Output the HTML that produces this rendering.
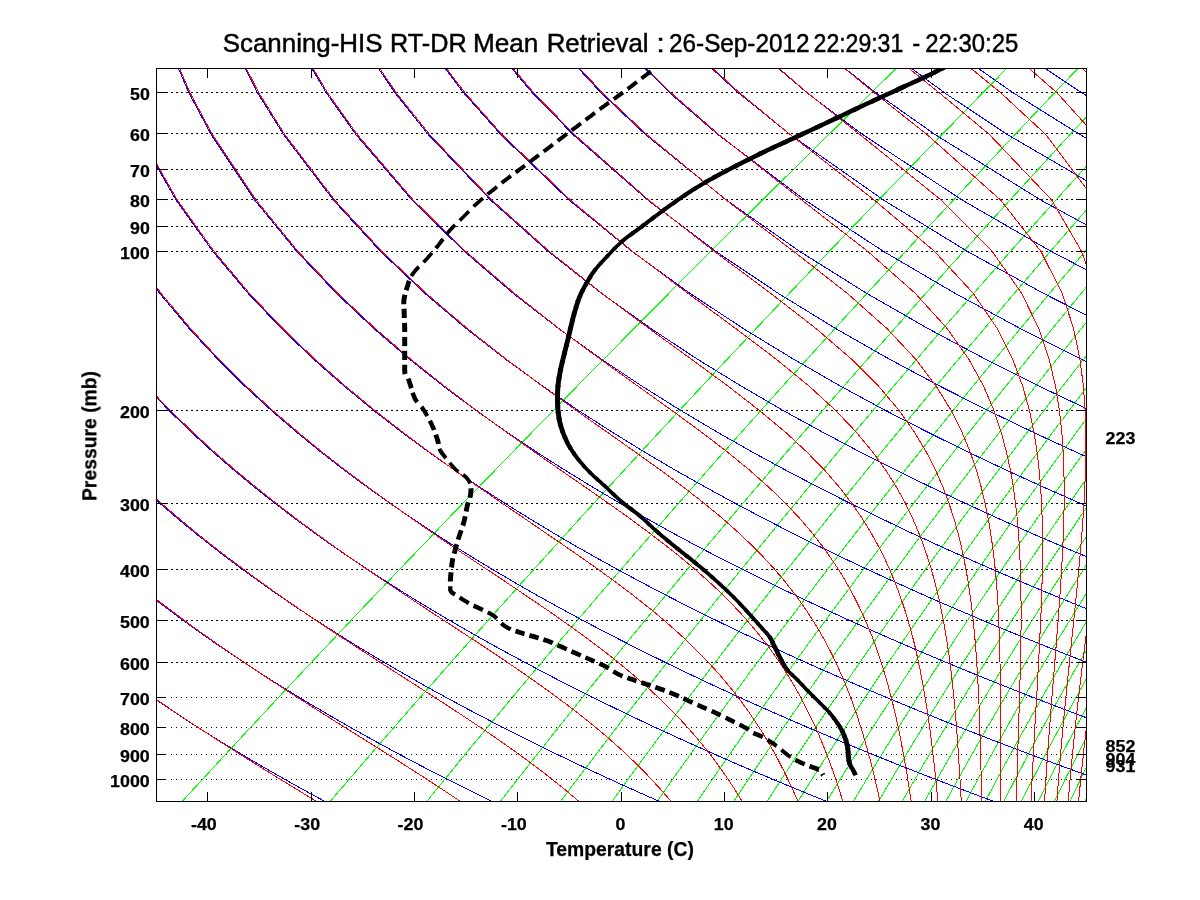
<!DOCTYPE html><html><head><meta charset="utf-8"><title>Scanning-HIS RT-DR Mean Retrieval</title>
<style>html,body{margin:0;padding:0;background:#fff}svg{display:block}text{font-family:"Liberation Sans",sans-serif;fill:#000}.b{font-weight:bold;font-size:17px;stroke:#000;stroke-width:.25px}.l{font-weight:bold;font-size:19.35px;stroke:#000;stroke-width:.25px}</style></head><body>
<svg width="1200" height="900" viewBox="0 0 1200 900">
<rect width="1200" height="900" fill="#fff"/>
<defs><filter id="gf" x="0" y="0" width="1200" height="900" filterUnits="userSpaceOnUse"><feOffset dx="0" dy="0"/></filter><clipPath id="c"><rect x="156.5" y="68.5" width="930.0" height="733.0"/></clipPath></defs>
<g clip-path="url(#c)" fill="none" stroke-width="1" shape-rendering="crispEdges">
<line x1="171" x2="1076.0" y1="92.5" y2="92.5" stroke="#000" stroke-dasharray="2 3"/>
<line x1="171" x2="1076.0" y1="133.5" y2="133.5" stroke="#000" stroke-dasharray="2 3"/>
<line x1="171" x2="1076.0" y1="169.5" y2="169.5" stroke="#000" stroke-dasharray="2 3"/>
<line x1="171" x2="1076.0" y1="199.5" y2="199.5" stroke="#000" stroke-dasharray="2 3"/>
<line x1="171" x2="1076.0" y1="226.5" y2="226.5" stroke="#000" stroke-dasharray="2 3"/>
<line x1="171" x2="1076.0" y1="251.5" y2="251.5" stroke="#000" stroke-dasharray="2 3"/>
<line x1="171" x2="1076.0" y1="410.5" y2="410.5" stroke="#000" stroke-dasharray="2 3"/>
<line x1="171" x2="1076.0" y1="503.5" y2="503.5" stroke="#000" stroke-dasharray="2 3"/>
<line x1="171" x2="1076.0" y1="569.5" y2="569.5" stroke="#000" stroke-dasharray="2 3"/>
<line x1="171" x2="1076.0" y1="620.5" y2="620.5" stroke="#000" stroke-dasharray="2 3"/>
<line x1="171" x2="1076.0" y1="662.5" y2="662.5" stroke="#000" stroke-dasharray="2 3"/>
<line x1="171" x2="1076.0" y1="697.5" y2="697.5" stroke="#000" stroke-dasharray="1 4"/>
<line x1="171" x2="1076.0" y1="727.5" y2="727.5" stroke="#000" stroke-dasharray="1 4"/>
<line x1="171" x2="1076.0" y1="754.5" y2="754.5" stroke="#000" stroke-dasharray="1 4"/>
<line x1="171" x2="1076.0" y1="779.5" y2="779.5" stroke="#000" stroke-dasharray="1 4"/>
<g stroke="#00ff00" transform="translate(0.5,0.5)">
<path d="M923.2,41.0 L870.8,92.2 L828.3,134.0 L761.5,199.9 L710.1,251.1 L668.4,292.9 L633.3,328.3 L603.0,358.9 L576.4,385.9 L552.7,410.1 L531.4,431.9 L511.9,451.9 L494.1,470.2 L477.6,487.2 L462.3,503.0 L448.0,517.8 L434.7,531.8 L422.1,544.9 L410.2,557.3 L398.9,569.0 L388.3,580.2 L378.1,590.9 L368.4,601.1 L359.1,610.8 L350.2,620.2 L341.7,629.2 L333.6,637.8 L325.7,646.2 L318.1,654.2 L310.8,662.0 L303.7,669.5 L296.9,676.8 L290.3,683.9 L283.8,690.7 L277.6,697.4 L271.6,703.8 L265.7,710.1 L260.0,716.2 L254.5,722.2 L249.1,728.0 L243.8,733.6 L238.7,739.2 L233.7,744.6 L228.8,749.8 L224.0,755.0 L219.4,760.0 L214.8,765.0 L210.4,769.8 L206.0,774.5 L201.8,779.1 L197.6,783.7 L193.5,788.1 L189.5,792.5 L185.5,796.8 L181.7,801.0"/>
<path d="M1032.7,41.0 L982.4,92.2 L941.6,134.0 L877.7,199.9 L828.6,251.1 L788.8,292.9 L755.4,328.3 L726.6,358.9 L701.3,385.9 L678.8,410.1 L658.5,431.9 L640.1,451.9 L623.2,470.2 L607.6,487.2 L593.1,503.0 L579.6,517.8 L567.0,531.8 L555.1,544.9 L543.9,557.3 L533.3,569.0 L523.2,580.2 L513.6,590.9 L504.5,601.1 L495.8,610.8 L487.4,620.2 L479.4,629.2 L471.7,637.8 L464.4,646.2 L457.2,654.2 L450.4,662.0 L443.7,669.5 L437.3,676.8 L431.1,683.9 L425.1,690.7 L419.3,697.4 L413.6,703.8 L408.1,710.1 L402.8,716.2 L397.6,722.2 L392.6,728.0 L387.7,733.6 L382.9,739.2 L378.2,744.6 L373.6,749.8 L369.2,755.0 L364.8,760.0 L360.6,765.0 L356.4,769.8 L352.4,774.5 L348.4,779.1 L344.5,783.7 L340.7,788.1 L336.9,792.5 L333.3,796.8 L329.7,801.0"/>
<path d="M1103.1,41.0 L1054.2,92.2 L1014.6,134.0 L952.6,199.9 L905.0,251.1 L866.5,292.9 L834.2,328.3 L806.4,358.9 L782.0,385.9 L760.3,410.1 L740.8,431.9 L723.0,451.9 L706.8,470.2 L691.8,487.2 L677.9,503.0 L664.9,517.8 L652.8,531.8 L641.4,544.9 L630.6,557.3 L620.5,569.0 L610.8,580.2 L601.7,590.9 L592.9,601.1 L584.6,610.8 L576.6,620.2 L568.9,629.2 L561.6,637.8 L554.5,646.2 L547.7,654.2 L541.1,662.0 L534.8,669.5 L528.7,676.8 L522.8,683.9 L517.0,690.7 L511.5,697.4 L506.1,703.8 L500.9,710.1 L495.8,716.2 L490.8,722.2 L486.0,728.0 L481.4,733.6 L476.8,739.2 L472.3,744.6 L468.0,749.8 L463.8,755.0 L459.6,760.0 L455.6,765.0 L451.6,769.8 L447.8,774.5 L444.0,779.1 L440.3,783.7 L436.7,788.1 L433.1,792.5 L429.7,796.8 L426.2,801.0"/>
<path d="M1156.1,41.0 L1108.3,92.2 L1069.6,134.0 L1009.2,199.9 L962.8,251.1 L925.3,292.9 L893.9,328.3 L866.8,358.9 L843.2,385.9 L822.1,410.1 L803.1,431.9 L785.9,451.9 L770.2,470.2 L755.7,487.2 L742.2,503.0 L729.7,517.8 L717.9,531.8 L706.9,544.9 L696.5,557.3 L686.7,569.0 L677.4,580.2 L668.5,590.9 L660.1,601.1 L652.0,610.8 L644.3,620.2 L636.9,629.2 L629.9,637.8 L623.0,646.2 L616.5,654.2 L610.2,662.0 L604.1,669.5 L598.2,676.8 L592.5,683.9 L587.0,690.7 L581.6,697.4 L576.5,703.8 L571.4,710.1 L566.5,716.2 L561.8,722.2 L557.2,728.0 L552.7,733.6 L548.3,739.2 L544.0,744.6 L539.9,749.8 L535.8,755.0 L531.8,760.0 L528.0,765.0 L524.2,769.8 L520.5,774.5 L516.9,779.1 L513.3,783.7 L509.8,788.1 L506.4,792.5 L503.1,796.8 L499.8,801.0"/>
<path d="M1199.2,41.0 L1152.3,92.2 L1114.4,134.0 L1055.1,199.9 L1009.8,251.1 L973.2,292.9 L942.4,328.3 L916.1,358.9 L893.0,385.9 L872.4,410.1 L854.0,431.9 L837.2,451.9 L821.9,470.2 L807.8,487.2 L794.7,503.0 L782.5,517.8 L771.1,531.8 L760.4,544.9 L750.3,557.3 L740.7,569.0 L731.7,580.2 L723.1,590.9 L714.9,601.1 L707.1,610.8 L699.7,620.2 L692.5,629.2 L685.6,637.8 L679.0,646.2 L672.7,654.2 L666.6,662.0 L660.7,669.5 L655.0,676.8 L649.5,683.9 L644.2,690.7 L639.0,697.4 L634.0,703.8 L629.1,710.1 L624.4,716.2 L619.8,722.2 L615.4,728.0 L611.0,733.6 L606.8,739.2 L602.7,744.6 L598.7,749.8 L594.8,755.0 L590.9,760.0 L587.2,765.0 L583.5,769.8 L580.0,774.5 L576.5,779.1 L573.1,783.7 L569.7,788.1 L566.5,792.5 L563.2,796.8 L560.1,801.0"/>
<path d="M1235.7,41.0 L1189.6,92.2 L1152.3,134.0 L1094.2,199.9 L1049.7,251.1 L1013.8,292.9 L983.7,328.3 L957.9,358.9 L935.3,385.9 L915.2,410.1 L897.2,431.9 L880.8,451.9 L865.8,470.2 L852.1,487.2 L839.3,503.0 L827.4,517.8 L816.3,531.8 L805.9,544.9 L796.0,557.3 L786.7,569.0 L777.9,580.2 L769.6,590.9 L761.6,601.1 L754.0,610.8 L746.8,620.2 L739.8,629.2 L733.2,637.8 L726.7,646.2 L720.6,654.2 L714.7,662.0 L708.9,669.5 L703.4,676.8 L698.1,683.9 L692.9,690.7 L687.9,697.4 L683.0,703.8 L678.3,710.1 L673.7,716.2 L669.3,722.2 L665.0,728.0 L660.8,733.6 L656.7,739.2 L652.7,744.6 L648.8,749.8 L645.0,755.0 L641.3,760.0 L637.7,765.0 L634.2,769.8 L630.7,774.5 L627.3,779.1 L624.0,783.7 L620.8,788.1 L617.6,792.5 L614.5,796.8 L611.5,801.0"/>
<path d="M1222.0,92.2 L1185.3,134.0 L1128.2,199.9 L1084.5,251.1 L1049.2,292.9 L1019.7,328.3 L994.4,358.9 L972.2,385.9 L952.6,410.1 L934.9,431.9 L918.9,451.9 L904.3,470.2 L890.8,487.2 L878.3,503.0 L866.7,517.8 L855.8,531.8 L845.6,544.9 L836.0,557.3 L827.0,569.0 L818.4,580.2 L810.2,590.9 L802.5,601.1 L795.1,610.8 L788.0,620.2 L781.2,629.2 L774.7,637.8 L768.5,646.2 L762.5,654.2 L756.7,662.0 L751.2,669.5 L745.8,676.8 L740.6,683.9 L735.6,690.7 L730.7,697.4 L726.0,703.8 L721.4,710.1 L716.9,716.2 L712.6,722.2 L708.4,728.0 L704.4,733.6 L700.4,739.2 L696.5,744.6 L692.7,749.8 L689.1,755.0 L685.5,760.0 L682.0,765.0 L678.5,769.8 L675.2,774.5 L671.9,779.1 L668.7,783.7 L665.6,788.1 L662.5,792.5 L659.5,796.8 L656.6,801.0"/>
<path d="M1214.7,134.0 L1158.4,199.9 L1115.4,251.1 L1080.7,292.9 L1051.7,328.3 L1026.9,358.9 L1005.1,385.9 L985.8,410.1 L968.5,431.9 L952.8,451.9 L938.5,470.2 L925.3,487.2 L913.0,503.0 L901.7,517.8 L891.1,531.8 L881.1,544.9 L871.7,557.3 L862.8,569.0 L854.5,580.2 L846.5,590.9 L838.9,601.1 L831.7,610.8 L824.8,620.2 L818.2,629.2 L811.8,637.8 L805.7,646.2 L799.9,654.2 L794.3,662.0 L788.8,669.5 L783.6,676.8 L778.5,683.9 L773.6,690.7 L768.9,697.4 L764.3,703.8 L759.8,710.1 L755.5,716.2 L751.3,722.2 L747.2,728.0 L743.2,733.6 L739.4,739.2 L735.6,744.6 L731.9,749.8 L728.4,755.0 L724.9,760.0 L721.5,765.0 L718.1,769.8 L714.9,774.5 L711.7,779.1 L708.6,783.7 L705.6,788.1 L702.6,792.5 L699.7,796.8 L696.8,801.0"/>
<path d="M1241.2,134.0 L1185.7,199.9 L1143.4,251.1 L1109.2,292.9 L1080.7,328.3 L1056.2,358.9 L1034.9,385.9 L1015.9,410.1 L998.9,431.9 L983.5,451.9 L969.4,470.2 L956.4,487.2 L944.5,503.0 L933.3,517.8 L922.9,531.8 L913.1,544.9 L904.0,557.3 L895.3,569.0 L887.1,580.2 L879.3,590.9 L871.9,601.1 L864.8,610.8 L858.0,620.2 L851.6,629.2 L845.4,637.8 L839.4,646.2 L833.7,654.2 L828.2,662.0 L822.9,669.5 L817.8,676.8 L812.9,683.9 L808.1,690.7 L803.4,697.4 L799.0,703.8 L794.6,710.1 L790.4,716.2 L786.3,722.2 L782.3,728.0 L778.5,733.6 L774.7,739.2 L771.0,744.6 L767.4,749.8 L764.0,755.0 L760.6,760.0 L757.2,765.0 L754.0,769.8 L750.8,774.5 L747.7,779.1 L744.7,783.7 L741.8,788.1 L738.9,792.5 L736.0,796.8 L733.3,801.0"/>
<path d="M1210.6,199.9 L1168.8,251.1 L1135.2,292.9 L1107.1,328.3 L1083.0,358.9 L1062.0,385.9 L1043.4,410.1 L1026.6,431.9 L1011.5,451.9 L997.7,470.2 L984.9,487.2 L973.2,503.0 L962.2,517.8 L952.0,531.8 L942.4,544.9 L933.4,557.3 L924.9,569.0 L916.9,580.2 L909.2,590.9 L902.0,601.1 L895.1,610.8 L888.5,620.2 L882.1,629.2 L876.1,637.8 L870.2,646.2 L864.7,654.2 L859.3,662.0 L854.1,669.5 L849.1,676.8 L844.3,683.9 L839.6,690.7 L835.1,697.4 L830.7,703.8 L826.4,710.1 L822.3,716.2 L818.3,722.2 L814.4,728.0 L810.7,733.6 L807.0,739.2 L803.4,744.6 L799.9,749.8 L796.5,755.0 L793.2,760.0 L790.0,765.0 L786.8,769.8 L783.7,774.5 L780.7,779.1 L777.8,783.7 L774.9,788.1 L772.1,792.5 L769.3,796.8 L766.6,801.0"/>
<path d="M1233.5,199.9 L1192.3,251.1 L1159.1,292.9 L1131.4,328.3 L1107.7,358.9 L1087.0,385.9 L1068.6,410.1 L1052.2,431.9 L1037.3,451.9 L1023.7,470.2 L1011.2,487.2 L999.6,503.0 L988.9,517.8 L978.8,531.8 L969.4,544.9 L960.6,557.3 L952.3,569.0 L944.4,580.2 L936.9,590.9 L929.8,601.1 L923.0,610.8 L916.5,620.2 L910.3,629.2 L904.4,637.8 L898.7,646.2 L893.2,654.2 L887.9,662.0 L882.9,669.5 L878.0,676.8 L873.2,683.9 L868.7,690.7 L864.2,697.4 L860.0,703.8 L855.8,710.1 L851.8,716.2 L847.9,722.2 L844.1,728.0 L840.4,733.6 L836.8,739.2 L833.3,744.6 L829.9,749.8 L826.6,755.0 L823.4,760.0 L820.2,765.0 L817.1,769.8 L814.1,774.5 L811.2,779.1 L808.3,783.7 L805.5,788.1 L802.8,792.5 L800.1,796.8 L797.4,801.0"/>
<path d="M1214.0,251.1 L1181.3,292.9 L1154.0,328.3 L1130.6,358.9 L1110.2,385.9 L1092.1,410.1 L1075.9,431.9 L1061.2,451.9 L1047.8,470.2 L1035.5,487.2 L1024.2,503.0 L1013.6,517.8 L1003.8,531.8 L994.5,544.9 L985.8,557.3 L977.6,569.0 L969.9,580.2 L962.5,590.9 L955.6,601.1 L948.9,610.8 L942.5,620.2 L936.5,629.2 L930.6,637.8 L925.1,646.2 L919.7,654.2 L914.5,662.0 L909.6,669.5 L904.8,676.8 L900.1,683.9 L895.7,690.7 L891.4,697.4 L887.2,703.8 L883.1,710.1 L879.2,716.2 L875.3,722.2 L871.6,728.0 L868.0,733.6 L864.5,739.2 L861.1,744.6 L857.8,749.8 L854.5,755.0 L851.4,760.0 L848.3,765.0 L845.3,769.8 L842.4,774.5 L839.5,779.1 L836.7,783.7 L833.9,788.1 L831.3,792.5 L828.6,796.8 L826.1,801.0"/>
<path d="M1234.3,251.1 L1202.0,292.9 L1175.0,328.3 L1151.9,358.9 L1131.8,385.9 L1114.0,410.1 L1098.0,431.9 L1083.6,451.9 L1070.4,470.2 L1058.3,487.2 L1047.1,503.0 L1036.7,517.8 L1027.0,531.8 L1017.9,544.9 L1009.4,557.3 L1001.3,569.0 L993.7,580.2 L986.5,590.9 L979.6,601.1 L973.1,610.8 L966.9,620.2 L960.9,629.2 L955.2,637.8 L949.7,646.2 L944.5,654.2 L939.4,662.0 L934.5,669.5 L929.8,676.8 L925.3,683.9 L920.9,690.7 L916.7,697.4 L912.6,703.8 L908.6,710.1 L904.7,716.2 L901.0,722.2 L897.4,728.0 L893.8,733.6 L890.4,739.2 L887.1,744.6 L883.8,749.8 L880.6,755.0 L877.6,760.0 L874.5,765.0 L871.6,769.8 L868.7,774.5 L865.9,779.1 L863.2,783.7 L860.5,788.1 L857.9,792.5 L855.3,796.8 L852.8,801.0"/>
<path d="M1221.3,292.9 L1194.7,328.3 L1171.9,358.9 L1152.1,385.9 L1134.5,410.1 L1118.7,431.9 L1104.5,451.9 L1091.5,470.2 L1079.6,487.2 L1068.6,503.0 L1058.3,517.8 L1048.8,531.8 L1039.9,544.9 L1031.5,557.3 L1023.6,569.0 L1016.1,580.2 L1009.0,590.9 L1002.2,601.1 L995.8,610.8 L989.7,620.2 L983.8,629.2 L978.2,637.8 L972.8,646.2 L967.7,654.2 L962.7,662.0 L957.9,669.5 L953.3,676.8 L948.9,683.9 L944.6,690.7 L940.4,697.4 L936.4,703.8 L932.5,710.1 L928.7,716.2 L925.1,722.2 L921.5,728.0 L918.1,733.6 L914.7,739.2 L911.4,744.6 L908.3,749.8 L905.2,755.0 L902.1,760.0 L899.2,765.0 L896.3,769.8 L893.5,774.5 L890.8,779.1 L888.1,783.7 L885.5,788.1 L882.9,792.5 L880.4,796.8 L878.0,801.0"/>
<path d="M1213.2,328.3 L1190.7,358.9 L1171.1,385.9 L1153.8,410.1 L1138.3,431.9 L1124.2,451.9 L1111.4,470.2 L1099.7,487.2 L1088.8,503.0 L1078.7,517.8 L1069.3,531.8 L1060.5,544.9 L1052.3,557.3 L1044.5,569.0 L1037.1,580.2 L1030.1,590.9 L1023.5,601.1 L1017.2,610.8 L1011.2,620.2 L1005.4,629.2 L999.9,637.8 L994.6,646.2 L989.6,654.2 L984.7,662.0 L980.0,669.5 L975.5,676.8 L971.1,683.9 L966.9,690.7 L962.8,697.4 L958.9,703.8 L955.1,710.1 L951.4,716.2 L947.8,722.2 L944.3,728.0 L940.9,733.6 L937.6,739.2 L934.4,744.6 L931.3,749.8 L928.3,755.0 L925.3,760.0 L922.4,765.0 L919.6,769.8 L916.9,774.5 L914.2,779.1 L911.6,783.7 L909.0,788.1 L906.5,792.5 L904.1,796.8 L901.7,801.0"/>
<path d="M1208.5,358.9 L1189.1,385.9 L1172.0,410.1 L1156.7,431.9 L1142.8,451.9 L1130.2,470.2 L1118.6,487.2 L1107.9,503.0 L1098.0,517.8 L1088.7,531.8 L1080.1,544.9 L1071.9,557.3 L1064.3,569.0 L1057.0,580.2 L1050.1,590.9 L1043.6,601.1 L1037.4,610.8 L1031.5,620.2 L1025.8,629.2 L1020.4,637.8 L1015.2,646.2 L1010.3,654.2 L1005.5,662.0 L1000.9,669.5 L996.4,676.8 L992.1,683.9 L988.0,690.7 L984.0,697.4 L980.1,703.8 L976.4,710.1 L972.8,716.2 L969.2,722.2 L965.8,728.0 L962.5,733.6 L959.3,739.2 L956.1,744.6 L953.1,749.8 L950.1,755.0 L947.2,760.0 L944.4,765.0 L941.6,769.8 L939.0,774.5 L936.3,779.1 L933.8,783.7 L931.3,788.1 L928.8,792.5 L926.4,796.8 L924.1,801.0"/>
<path d="M1206.2,385.9 L1189.3,410.1 L1174.1,431.9 L1160.5,451.9 L1148.0,470.2 L1136.6,487.2 L1126.0,503.0 L1116.2,517.8 L1107.1,531.8 L1098.6,544.9 L1090.6,557.3 L1083.0,569.0 L1075.9,580.2 L1069.1,590.9 L1062.7,601.1 L1056.6,610.8 L1050.8,620.2 L1045.2,629.2 L1039.9,637.8 L1034.8,646.2 L1029.9,654.2 L1025.2,662.0 L1020.6,669.5 L1016.3,676.8 L1012.1,683.9 L1008.0,690.7 L1004.1,697.4 L1000.3,703.8 L996.6,710.1 L993.1,716.2 L989.6,722.2 L986.2,728.0 L983.0,733.6 L979.8,739.2 L976.7,744.6 L973.8,749.8 L970.8,755.0 L968.0,760.0 L965.2,765.0 L962.5,769.8 L959.9,774.5 L957.3,779.1 L954.8,783.7 L952.4,788.1 L950.0,792.5 L947.6,796.8 L945.3,801.0"/>
<path d="M1222.4,385.9 L1205.7,410.1 L1190.7,431.9 L1177.2,451.9 L1164.9,470.2 L1153.6,487.2 L1143.2,503.0 L1133.6,517.8 L1124.6,531.8 L1116.2,544.9 L1108.3,557.3 L1100.8,569.0 L1093.8,580.2 L1087.1,590.9 L1080.8,601.1 L1074.8,610.8 L1069.1,620.2 L1063.6,629.2 L1058.3,637.8 L1053.3,646.2 L1048.5,654.2 L1043.9,662.0 L1039.4,669.5 L1035.2,676.8 L1031.0,683.9 L1027.0,690.7 L1023.2,697.4 L1019.4,703.8 L1015.8,710.1 L1012.3,716.2 L1008.9,722.2 L1005.7,728.0 L1002.5,733.6 L999.4,739.2 L996.3,744.6 L993.4,749.8 L990.5,755.0 L987.8,760.0 L985.1,765.0 L982.4,769.8 L979.8,774.5 L977.3,779.1 L974.8,783.7 L972.4,788.1 L970.1,792.5 L967.8,796.8 L965.6,801.0"/>
<path d="M1206.5,431.9 L1193.2,451.9 L1181.0,470.2 L1169.9,487.2 L1159.6,503.0 L1150.1,517.8 L1141.2,531.8 L1132.9,544.9 L1125.1,557.3 L1117.8,569.0 L1110.8,580.2 L1104.3,590.9 L1098.1,601.1 L1092.1,610.8 L1086.5,620.2 L1081.1,629.2 L1076.0,637.8 L1071.0,646.2 L1066.3,654.2 L1061.7,662.0 L1057.4,669.5 L1053.1,676.8 L1049.1,683.9 L1045.1,690.7 L1041.4,697.4 L1037.7,703.8 L1034.2,710.1 L1030.7,716.2 L1027.4,722.2 L1024.2,728.0 L1021.0,733.6 L1018.0,739.2 L1015.0,744.6 L1012.1,749.8 L1009.3,755.0 L1006.6,760.0 L1003.9,765.0 L1001.3,769.8 L998.8,774.5 L996.3,779.1 L993.9,783.7 L991.6,788.1 L989.3,792.5 L987.0,796.8 L984.8,801.0"/>
<path d="M1208.4,451.9 L1196.4,470.2 L1185.4,487.2 L1175.2,503.0 L1165.8,517.8 L1157.1,531.8 L1148.9,544.9 L1141.2,557.3 L1134.0,569.0 L1127.1,580.2 L1120.7,590.9 L1114.5,601.1 L1108.7,610.8 L1103.1,620.2 L1097.8,629.2 L1092.8,637.8 L1087.9,646.2 L1083.2,654.2 L1078.8,662.0 L1074.4,669.5 L1070.3,676.8 L1066.3,683.9 L1062.4,690.7 L1058.7,697.4 L1055.1,703.8 L1051.6,710.1 L1048.3,716.2 L1045.0,722.2 L1041.8,728.0 L1038.7,733.6 L1035.7,739.2 L1032.8,744.6 L1030.0,749.8 L1027.3,755.0 L1024.6,760.0 L1022.0,765.0 L1019.4,769.8 L1016.9,774.5 L1014.5,779.1 L1012.2,783.7 L1009.9,788.1 L1007.6,792.5 L1005.4,796.8 L1003.2,801.0"/>
<path d="M1211.1,470.2 L1200.2,487.2 L1190.2,503.0 L1180.9,517.8 L1172.2,531.8 L1164.2,544.9 L1156.6,557.3 L1149.4,569.0 L1142.7,580.2 L1136.3,590.9 L1130.3,601.1 L1124.5,610.8 L1119.0,620.2 L1113.8,629.2 L1108.8,637.8 L1104.0,646.2 L1099.4,654.2 L1095.0,662.0 L1090.8,669.5 L1086.7,676.8 L1082.8,683.9 L1079.0,690.7 L1075.3,697.4 L1071.8,703.8 L1068.4,710.1 L1065.0,716.2 L1061.8,722.2 L1058.7,728.0 L1055.7,733.6 L1052.7,739.2 L1049.9,744.6 L1047.1,749.8 L1044.4,755.0 L1041.8,760.0 L1039.2,765.0 L1036.7,769.8 L1034.3,774.5 L1031.9,779.1 L1029.6,783.7 L1027.3,788.1 L1025.1,792.5 L1023.0,796.8 L1020.8,801.0"/>
<path d="M1214.4,487.2 L1204.5,503.0 L1195.3,517.8 L1186.7,531.8 L1178.8,544.9 L1171.3,557.3 L1164.2,569.0 L1157.6,580.2 L1151.3,590.9 L1145.3,601.1 L1139.7,610.8 L1134.3,620.2 L1129.1,629.2 L1124.2,637.8 L1119.5,646.2 L1115.0,654.2 L1110.6,662.0 L1106.4,669.5 L1102.4,676.8 L1098.6,683.9 L1094.8,690.7 L1091.2,697.4 L1087.7,703.8 L1084.4,710.1 L1081.1,716.2 L1077.9,722.2 L1074.9,728.0 L1071.9,733.6 L1069.0,739.2 L1066.2,744.6 L1063.5,749.8 L1060.8,755.0 L1058.3,760.0 L1055.7,765.0 L1053.3,769.8 L1050.9,774.5 L1048.6,779.1 L1046.3,783.7 L1044.1,788.1 L1041.9,792.5 L1039.8,796.8 L1037.7,801.0"/>
<path d="M1209.1,517.8 L1200.7,531.8 L1192.8,544.9 L1185.4,557.3 L1178.4,569.0 L1171.9,580.2 L1165.7,590.9 L1159.8,601.1 L1154.2,610.8 L1148.9,620.2 L1143.8,629.2 L1138.9,637.8 L1134.3,646.2 L1129.8,654.2 L1125.6,662.0 L1121.5,669.5 L1117.5,676.8 L1113.7,683.9 L1110.0,690.7 L1106.5,697.4 L1103.0,703.8 L1099.7,710.1 L1096.5,716.2 L1093.4,722.2 L1090.4,728.0 L1087.5,733.6 L1084.6,739.2 L1081.9,744.6 L1079.2,749.8 L1076.6,755.0 L1074.1,760.0 L1071.6,765.0 L1069.2,769.8 L1066.8,774.5 L1064.5,779.1 L1062.3,783.7 L1060.1,788.1 L1058.0,792.5 L1055.9,796.8 L1053.9,801.0"/>
<path d="M1206.2,544.9 L1198.9,557.3 L1192.1,569.0 L1185.6,580.2 L1179.5,590.9 L1173.7,601.1 L1168.1,610.8 L1162.9,620.2 L1157.9,629.2 L1153.1,637.8 L1148.5,646.2 L1144.1,654.2 L1139.9,662.0 L1135.9,669.5 L1132.0,676.8 L1128.2,683.9 L1124.6,690.7 L1121.1,697.4 L1117.7,703.8 L1114.5,710.1 L1111.3,716.2 L1108.3,722.2 L1105.3,728.0 L1102.4,733.6 L1099.6,739.2 L1096.9,744.6 L1094.3,749.8 L1091.7,755.0 L1089.2,760.0 L1086.8,765.0 L1084.4,769.8 L1082.1,774.5 L1079.9,779.1 L1077.7,783.7 L1075.6,788.1 L1073.5,792.5 L1071.4,796.8 L1069.4,801.0"/>
<path d="M1211.9,557.3 L1205.2,569.0 L1198.8,580.2 L1192.7,590.9 L1187.0,601.1 L1181.5,610.8 L1176.4,620.2 L1171.4,629.2 L1166.7,637.8 L1162.2,646.2 L1157.9,654.2 L1153.7,662.0 L1149.7,669.5 L1145.9,676.8 L1142.2,683.9 L1138.6,690.7 L1135.2,697.4 L1131.9,703.8 L1128.6,710.1 L1125.5,716.2 L1122.5,722.2 L1119.6,728.0 L1116.8,733.6 L1114.0,739.2 L1111.4,744.6 L1108.8,749.8 L1106.3,755.0 L1103.8,760.0 L1101.4,765.0 L1099.1,769.8 L1096.8,774.5 L1094.6,779.1 L1092.5,783.7 L1090.4,788.1 L1088.3,792.5 L1086.3,796.8 L1084.4,801.0"/>
</g><g stroke="#0000ff" transform="translate(0,0.7)">
<path d="M31.3,716.2 L39.4,722.2 L47.4,728.0 L55.3,733.6 L63.1,739.2 L70.8,744.6 L78.5,749.8 L86.1,755.0 L93.6,760.0 L101.0,765.0 L108.4,769.8 L115.7,774.5 L122.9,779.1 L130.0,783.7 L137.1,788.1 L144.2,792.5 L151.1,796.8 L158.0,801.0"/>
<path d="M28.0,601.1 L39.3,610.8 L50.5,620.2 L61.4,629.2 L72.3,637.8 L82.9,646.2 L93.4,654.2 L103.8,662.0 L114.0,669.5 L124.0,676.8 L134.0,683.9 L143.8,690.7 L153.4,697.4 L163.0,703.8 L172.4,710.1 L181.7,716.2 L190.9,722.2 L200.0,728.0 L209.0,733.6 L217.9,739.2 L226.7,744.6 L235.4,749.8 L244.0,755.0 L252.5,760.0 L260.9,765.0 L269.3,769.8 L277.5,774.5 L285.7,779.1 L293.8,783.7 L301.8,788.1 L309.7,792.5 L317.6,796.8 L325.4,801.0"/>
<path d="M29.7,487.2 L45.2,503.0 L60.4,517.8 L75.2,531.8 L89.7,544.9 L103.9,557.3 L117.9,569.0 L131.6,580.2 L145.0,590.9 L158.1,601.1 L171.1,610.8 L183.8,620.2 L196.3,629.2 L208.6,637.8 L220.7,646.2 L232.6,654.2 L244.3,662.0 L255.8,669.5 L267.2,676.8 L278.4,683.9 L289.5,690.7 L300.4,697.4 L311.1,703.8 L321.7,710.1 L332.2,716.2 L342.5,722.2 L352.7,728.0 L362.8,733.6 L372.8,739.2 L382.6,744.6 L392.3,749.8 L401.9,755.0 L411.5,760.0 L420.9,765.0 L430.2,769.8 L439.4,774.5 L448.5,779.1 L457.5,783.7 L466.4,788.1 L475.3,792.5 L484.0,796.8 L492.7,801.0"/>
<path d="M25.9,358.9 L46.6,385.9 L66.8,410.1 L86.5,431.9 L105.7,451.9 L124.4,470.2 L142.6,487.2 L160.3,503.0 L177.6,517.8 L194.5,531.8 L211.0,544.9 L227.1,557.3 L242.9,569.0 L258.4,580.2 L273.5,590.9 L288.3,601.1 L302.9,610.8 L317.1,620.2 L331.2,629.2 L344.9,637.8 L358.4,646.2 L371.7,654.2 L384.8,662.0 L397.7,669.5 L410.4,676.8 L422.8,683.9 L435.1,690.7 L447.3,697.4 L459.2,703.8 L471.0,710.1 L482.6,716.2 L494.1,722.2 L505.4,728.0 L516.5,733.6 L527.6,739.2 L538.5,744.6 L549.2,749.8 L559.9,755.0 L570.4,760.0 L580.8,765.0 L591.1,769.8 L601.2,774.5 L611.3,779.1 L621.2,783.7 L631.1,788.1 L640.8,792.5 L650.5,796.8 L660.0,801.0"/>
<path d="M19.1,199.9 L45.4,251.1 L71.5,292.9 L97.1,328.3 L121.9,358.9 L146.0,385.9 L169.3,410.1 L191.8,431.9 L213.6,451.9 L234.8,470.2 L255.4,487.2 L275.4,503.0 L294.9,517.8 L313.8,531.8 L332.3,544.9 L350.3,557.3 L368.0,569.0 L385.2,580.2 L402.0,590.9 L418.5,601.1 L434.7,610.8 L450.5,620.2 L466.0,629.2 L481.2,637.8 L496.2,646.2 L510.9,654.2 L525.4,662.0 L539.6,669.5 L553.5,676.8 L567.3,683.9 L580.8,690.7 L594.2,697.4 L607.3,703.8 L620.3,710.1 L633.0,716.2 L645.6,722.2 L658.0,728.0 L670.3,733.6 L682.4,739.2 L694.4,744.6 L706.2,749.8 L717.8,755.0 L729.3,760.0 L740.7,765.0 L752.0,769.8 L763.1,774.5 L774.1,779.1 L785.0,783.7 L795.7,788.1 L806.4,792.5 L816.9,796.8 L827.4,801.0"/>
<path d="M38.3,41.0 L51.5,92.2 L66.4,134.0 L97.8,199.9 L129.3,251.1 L159.9,292.9 L189.5,328.3 L218.0,358.9 L245.3,385.9 L271.7,410.1 L297.1,431.9 L321.6,451.9 L345.3,470.2 L368.3,487.2 L390.5,503.0 L412.1,517.8 L433.2,531.8 L453.6,544.9 L473.6,557.3 L493.0,569.0 L512.0,580.2 L530.5,590.9 L548.7,601.1 L566.4,610.8 L583.8,620.2 L600.9,629.2 L617.6,637.8 L634.0,646.2 L650.1,654.2 L665.9,662.0 L681.4,669.5 L696.7,676.8 L711.7,683.9 L726.5,690.7 L741.1,697.4 L755.4,703.8 L769.5,710.1 L783.5,716.2 L797.2,722.2 L810.7,728.0 L824.1,733.6 L837.2,739.2 L850.2,744.6 L863.1,749.8 L875.7,755.0 L888.3,760.0 L900.6,765.0 L912.9,769.8 L924.9,774.5 L936.9,779.1 L948.7,783.7 L960.4,788.1 L971.9,792.5 L983.4,796.8 L994.7,801.0"/>
<path d="M102.7,41.0 L120.2,92.2 L138.8,134.0 L176.4,199.9 L213.1,251.1 L248.3,292.9 L281.9,328.3 L314.0,358.9 L344.7,385.9 L374.1,410.1 L402.3,431.9 L429.5,451.9 L455.7,470.2 L481.1,487.2 L505.6,503.0 L529.4,517.8 L552.5,531.8 L574.9,544.9 L596.8,557.3 L618.0,569.0 L638.8,580.2 L659.1,590.9 L678.9,601.1 L698.2,610.8 L717.2,620.2 L735.7,629.2 L753.9,637.8 L771.7,646.2 L789.2,654.2 L806.4,662.0 L823.3,669.5 L839.9,676.8 L856.2,683.9 L872.2,690.7 L888.0,697.4 L903.5,703.8 L918.8,710.1 L933.9,716.2 L948.7,722.2 L963.4,728.0 L977.8,733.6 L992.1,739.2 L1006.1,744.6 L1020.0,749.8 L1033.7,755.0 L1047.2,760.0 L1060.6,765.0 L1073.8,769.8 L1086.8,774.5 L1099.7,779.1 L1112.4,783.7 L1125.0,788.1 L1137.5,792.5 L1149.8,796.8 L1162.0,801.0"/>
<path d="M167.1,41.0 L188.9,92.2 L211.2,134.0 L255.1,199.9 L297.0,251.1 L336.7,292.9 L374.3,328.3 L410.0,358.9 L444.0,385.9 L476.5,410.1 L507.6,431.9 L537.4,451.9 L566.2,470.2 L593.9,487.2 L620.7,503.0 L646.7,517.8 L671.8,531.8 L696.2,544.9 L720.0,557.3 L743.1,569.0 L765.6,580.2 L787.6,590.9 L809.0,601.1 L830.0,610.8 L850.5,620.2 L870.6,629.2 L890.2,637.8 L909.5,646.2 L928.4,654.2 L946.9,662.0 L965.1,669.5 L983.0,676.8 L1000.6,683.9 L1017.9,690.7 L1034.9,697.4 L1051.6,703.8 L1068.1,710.1 L1084.3,716.2 L1100.3,722.2 L1116.1,728.0 L1131.6,733.6 L1146.9,739.2 L1162.0,744.6 L1176.9,749.8 L1191.6,755.0 L1206.1,760.0"/>
<path d="M231.5,41.0 L257.6,92.2 L283.6,134.0 L333.8,199.9 L380.9,251.1 L425.1,292.9 L466.7,328.3 L506.1,358.9 L543.4,385.9 L578.9,410.1 L612.9,431.9 L645.4,451.9 L676.6,470.2 L706.8,487.2 L735.8,503.0 L763.9,517.8 L791.1,531.8 L817.5,544.9 L843.2,557.3 L868.1,569.0 L892.4,580.2 L916.1,590.9 L939.2,601.1 L961.8,610.8 L983.8,620.2 L1005.4,629.2 L1026.6,637.8 L1047.3,646.2 L1067.6,654.2 L1087.5,662.0 L1107.0,669.5 L1126.2,676.8 L1145.0,683.9 L1163.6,690.7 L1181.8,697.4 L1199.7,703.8 L1217.4,710.1"/>
<path d="M296.0,41.0 L326.3,92.2 L356.0,134.0 L412.4,199.9 L464.8,251.1 L513.5,292.9 L559.2,328.3 L602.1,358.9 L642.7,385.9 L681.3,410.1 L718.1,431.9 L753.3,451.9 L787.1,470.2 L819.6,487.2 L850.9,503.0 L881.2,517.8 L910.4,531.8 L938.8,544.9 L966.4,557.3 L993.2,569.0 L1019.2,580.2 L1044.6,590.9 L1069.4,601.1 L1093.6,610.8 L1117.2,620.2 L1140.3,629.2 L1162.9,637.8 L1185.0,646.2 L1206.7,654.2"/>
<path d="M360.4,41.0 L395.0,92.2 L428.4,134.0 L491.1,199.9 L548.7,251.1 L601.9,292.9 L651.6,328.3 L698.1,358.9 L742.1,385.9 L783.7,410.1 L823.4,431.9 L861.3,451.9 L897.5,470.2 L932.4,487.2 L966.0,503.0 L998.4,517.8 L1029.8,531.8 L1060.1,544.9 L1089.6,557.3 L1118.2,569.0 L1146.0,580.2 L1173.1,590.9 L1199.6,601.1 L1225.3,610.8"/>
<path d="M424.8,41.0 L463.7,92.2 L500.8,134.0 L569.7,199.9 L632.5,251.1 L690.3,292.9 L744.0,328.3 L794.2,358.9 L841.4,385.9 L886.1,410.1 L928.6,431.9 L969.2,451.9 L1008.0,470.2 L1045.3,487.2 L1081.1,503.0 L1115.7,517.8 L1149.1,531.8 L1181.4,544.9 L1212.8,557.3"/>
<path d="M489.2,41.0 L532.4,92.2 L573.2,134.0 L648.4,199.9 L716.4,251.1 L778.7,292.9 L836.4,328.3 L890.2,358.9 L940.8,385.9 L988.6,410.1 L1033.9,431.9 L1077.1,451.9 L1118.5,470.2 L1158.1,487.2 L1196.2,503.0 L1232.9,517.8"/>
<path d="M553.7,41.0 L601.1,92.2 L645.6,134.0 L727.1,199.9 L800.3,251.1 L867.1,292.9 L928.8,328.3 L986.3,358.9 L1040.1,385.9 L1091.0,410.1 L1139.2,431.9 L1185.1,451.9 L1228.9,470.2"/>
<path d="M618.1,41.0 L669.8,92.2 L718.0,134.0 L805.7,199.9 L884.2,251.1 L955.5,292.9 L1021.2,328.3 L1082.3,358.9 L1139.5,385.9 L1193.4,410.1 L1244.4,431.9"/>
<path d="M682.5,41.0 L738.5,92.2 L790.4,134.0 L884.4,199.9 L968.1,251.1 L1043.9,292.9 L1113.7,328.3 L1178.3,358.9 L1238.8,385.9"/>
<path d="M746.9,41.0 L807.2,92.2 L862.9,134.0 L963.0,199.9 L1051.9,251.1 L1132.3,292.9 L1206.1,328.3"/>
<path d="M811.4,41.0 L875.9,92.2 L935.3,134.0 L1041.7,199.9 L1135.8,251.1 L1220.7,292.9"/>
<path d="M875.8,41.0 L944.6,92.2 L1007.7,134.0 L1120.4,199.9 L1219.7,251.1"/>
<path d="M940.2,41.0 L1013.3,92.2 L1080.1,134.0 L1199.0,199.9 L1303.6,251.1"/>
<path d="M1004.6,41.0 L1082.0,92.2 L1152.5,134.0 L1277.7,199.9"/>
</g><g stroke="#ff0000" transform="translate(1,0.3)">
<path d="M27.9,601.1 L39.3,610.8 L50.4,620.2 L61.4,629.2 L72.1,637.8 L82.8,646.2 L93.2,654.2 L103.5,662.0 L113.7,669.5 L123.6,676.8 L133.5,683.9 L143.2,690.7 L152.7,697.4 L162.1,703.8 L171.4,710.1 L180.5,716.2 L189.5,722.2 L198.4,728.0 L207.1,733.6 L215.7,739.2 L224.1,744.6 L232.4,749.8 L240.6,755.0 L248.7,760.0 L256.6,765.0 L264.4,769.8 L272.0,774.5 L279.6,779.1 L287.0,783.7 L294.2,788.1 L301.4,792.5 L308.4,796.8 L315.3,801.0"/>
<path d="M29.7,487.2 L45.2,503.0 L60.3,517.8 L75.2,531.8 L89.7,544.9 L103.9,557.3 L117.8,569.0 L131.4,580.2 L144.8,590.9 L157.9,601.1 L170.8,610.8 L183.4,620.2 L195.8,629.2 L207.9,637.8 L219.8,646.2 L231.5,654.2 L242.9,662.0 L254.2,669.5 L265.2,676.8 L276.0,683.9 L286.5,690.7 L296.9,697.4 L307.0,703.8 L316.9,710.1 L326.6,716.2 L336.1,722.2 L345.3,728.0 L354.3,733.6 L363.2,739.2 L371.8,744.6 L380.2,749.8 L388.4,755.0 L396.3,760.0 L404.1,765.0 L411.6,769.8 L419.0,774.5 L426.2,779.1 L433.1,783.7 L439.9,788.1 L446.5,792.5 L452.9,796.8 L459.1,801.0"/>
<path d="M25.9,358.9 L46.6,385.9 L66.8,410.1 L86.5,431.9 L105.7,451.9 L124.4,470.2 L142.6,487.2 L160.3,503.0 L177.5,517.8 L194.4,531.8 L210.8,544.9 L226.8,557.3 L242.5,569.0 L257.7,580.2 L272.6,590.9 L287.2,601.1 L301.4,610.8 L315.2,620.2 L328.7,629.2 L341.8,637.8 L354.6,646.2 L367.0,654.2 L379.1,662.0 L390.8,669.5 L402.1,676.8 L413.2,683.9 L423.8,690.7 L434.1,697.4 L444.1,703.8 L453.7,710.1 L463.0,716.2 L472.0,722.2 L480.7,728.0 L489.0,733.6 L497.0,739.2 L504.7,744.6 L512.2,749.8 L519.3,755.0 L526.2,760.0 L532.9,765.0 L539.2,769.8 L545.4,774.5 L551.3,779.1 L557.0,783.7 L562.5,788.1 L567.7,792.5 L572.8,796.8 L577.7,801.0"/>
<path d="M19.1,199.9 L45.4,251.1 L71.5,292.9 L97.1,328.3 L121.9,358.9 L146.0,385.9 L169.2,410.1 L191.8,431.9 L213.6,451.9 L234.7,470.2 L255.3,487.2 L275.1,503.0 L294.4,517.8 L313.2,531.8 L331.3,544.9 L348.9,557.3 L366.0,569.0 L382.5,580.2 L398.5,590.9 L413.9,601.1 L428.7,610.8 L443.0,620.2 L456.8,629.2 L470.0,637.8 L482.6,646.2 L494.7,654.2 L506.3,662.0 L517.3,669.5 L527.9,676.8 L537.9,683.9 L547.4,690.7 L556.5,697.4 L565.2,703.8 L573.4,710.1 L581.2,716.2 L588.7,722.2 L595.7,728.0 L602.5,733.6 L608.9,739.2 L615.0,744.6 L620.8,749.8 L626.3,755.0 L631.6,760.0 L636.7,765.0 L641.5,769.8 L646.1,774.5 L650.5,779.1 L654.7,783.7 L658.8,788.1 L662.7,792.5 L666.4,796.8 L670.0,801.0"/>
<path d="M38.3,41.0 L51.5,92.2 L66.4,134.0 L97.8,199.9 L129.3,251.1 L159.9,292.9 L189.5,328.3 L217.9,358.9 L245.3,385.9 L271.6,410.1 L296.9,431.9 L321.3,451.9 L344.8,470.2 L367.5,487.2 L389.3,503.0 L410.3,517.8 L430.4,531.8 L449.7,544.9 L468.2,557.3 L485.8,569.0 L502.6,580.2 L518.5,590.9 L533.6,601.1 L547.8,610.8 L561.2,620.2 L573.9,629.2 L585.7,637.8 L596.9,646.2 L607.3,654.2 L617.1,662.0 L626.2,669.5 L634.8,676.8 L642.9,683.9 L650.5,690.7 L657.6,697.4 L664.3,703.8 L670.6,710.1 L676.5,716.2 L682.1,722.2 L687.3,728.0 L692.3,733.6 L697.0,739.2 L701.5,744.6 L705.7,749.8 L709.8,755.0 L713.6,760.0 L717.2,765.0 L720.7,769.8 L724.0,774.5 L727.2,779.1 L730.2,783.7 L733.1,788.1 L735.9,792.5 L738.5,796.8 L741.1,801.0"/>
<path d="M102.7,41.0 L120.2,92.2 L138.8,134.0 L176.4,199.9 L213.1,251.1 L248.3,292.9 L281.9,328.3 L313.9,358.9 L344.5,385.9 L373.8,410.1 L401.8,431.9 L428.5,451.9 L454.0,470.2 L478.2,487.2 L501.2,503.0 L523.0,517.8 L543.4,531.8 L562.6,544.9 L580.5,557.3 L597.1,569.0 L612.5,580.2 L626.8,590.9 L639.9,601.1 L652.1,610.8 L663.2,620.2 L673.5,629.2 L683.0,637.8 L691.7,646.2 L699.8,654.2 L707.3,662.0 L714.2,669.5 L720.6,676.8 L726.6,683.9 L732.1,690.7 L737.3,697.4 L742.1,703.8 L746.7,710.1 L750.9,716.2 L754.9,722.2 L758.7,728.0 L762.3,733.6 L765.6,739.2 L768.8,744.6 L771.8,749.8 L774.6,755.0 L777.4,760.0 L779.9,765.0 L782.4,769.8 L784.7,774.5 L787.0,779.1 L789.1,783.7 L791.2,788.1 L793.2,792.5 L795.1,796.8 L796.9,801.0"/>
<path d="M167.1,41.0 L188.9,92.2 L211.2,134.0 L255.1,199.9 L297.0,251.1 L336.7,292.9 L374.3,328.3 L409.8,358.9 L443.5,385.9 L475.4,410.1 L505.5,431.9 L533.8,451.9 L560.2,470.2 L584.8,487.2 L607.5,503.0 L628.3,517.8 L647.2,531.8 L664.4,544.9 L680.0,557.3 L694.0,569.0 L706.6,580.2 L718.1,590.9 L728.4,601.1 L737.7,610.8 L746.1,620.2 L753.8,629.2 L760.8,637.8 L767.2,646.2 L773.1,654.2 L778.4,662.0 L783.4,669.5 L788.0,676.8 L792.2,683.9 L796.2,690.7 L799.8,697.4 L803.2,703.8 L806.4,710.1 L809.4,716.2 L812.3,722.2 L814.9,728.0 L817.4,733.6 L819.8,739.2 L822.0,744.6 L824.1,749.8 L826.1,755.0 L828.0,760.0 L829.8,765.0 L831.6,769.8 L833.2,774.5 L834.8,779.1 L836.3,783.7 L837.8,788.1 L839.2,792.5 L840.5,796.8 L841.8,801.0"/>
<path d="M231.5,41.0 L257.6,92.2 L283.6,134.0 L333.8,199.9 L380.9,251.1 L425.0,292.9 L466.4,328.3 L505.2,358.9 L541.5,385.9 L575.2,410.1 L606.2,431.9 L634.5,451.9 L660.1,470.2 L682.9,487.2 L703.2,503.0 L721.1,517.8 L736.8,531.8 L750.7,544.9 L762.9,557.3 L773.6,569.0 L783.1,580.2 L791.6,590.9 L799.1,601.1 L805.9,610.8 L811.9,620.2 L817.4,629.2 L822.4,637.8 L826.9,646.2 L831.0,654.2 L834.8,662.0 L838.2,669.5 L841.4,676.8 L844.4,683.9 L847.1,690.7 L849.7,697.4 L852.1,703.8 L854.3,710.1 L856.4,716.2 L858.3,722.2 L860.1,728.0 L861.9,733.6 L863.5,739.2 L865.1,744.6 L866.5,749.8 L867.9,755.0 L869.3,760.0 L870.5,765.0 L871.7,769.8 L872.9,774.5 L874.0,779.1 L875.1,783.7 L876.1,788.1 L877.1,792.5 L878.0,796.8 L878.9,801.0"/>
<path d="M296.0,41.0 L326.3,92.2 L356.0,134.0 L412.4,199.9 L464.7,251.1 L513.2,292.9 L558.0,328.3 L599.4,358.9 L637.0,385.9 L670.8,410.1 L700.6,431.9 L726.6,451.9 L749.0,470.2 L768.1,487.2 L784.5,503.0 L798.4,517.8 L810.4,531.8 L820.7,544.9 L829.6,557.3 L837.4,569.0 L844.2,580.2 L850.2,590.9 L855.5,601.1 L860.2,610.8 L864.4,620.2 L868.2,629.2 L871.7,637.8 L874.8,646.2 L877.6,654.2 L880.2,662.0 L882.5,669.5 L884.7,676.8 L886.7,683.9 L888.6,690.7 L890.3,697.4 L891.9,703.8 L893.4,710.1 L894.8,716.2 L896.2,722.2 L897.4,728.0 L898.6,733.6 L899.7,739.2 L900.7,744.6 L901.7,749.8 L902.7,755.0 L903.6,760.0 L904.4,765.0 L905.3,769.8 L906.1,774.5 L906.8,779.1 L907.5,783.7 L908.2,788.1 L908.9,792.5 L909.5,796.8 L910.2,801.0"/>
<path d="M360.4,41.0 L395.0,92.2 L428.4,134.0 L491.0,199.9 L548.3,251.1 L600.7,292.9 L648.2,328.3 L690.4,358.9 L727.1,385.9 L758.3,410.1 L784.5,431.9 L806.0,451.9 L823.9,470.2 L838.6,487.2 L850.8,503.0 L861.0,517.8 L869.6,531.8 L876.9,544.9 L883.2,557.3 L888.6,569.0 L893.3,580.2 L897.4,590.9 L901.0,601.1 L904.2,610.8 L907.1,620.2 L909.6,629.2 L911.9,637.8 L914.0,646.2 L915.8,654.2 L917.5,662.0 L919.1,669.5 L920.5,676.8 L921.8,683.9 L923.1,690.7 L924.2,697.4 L925.2,703.8 L926.2,710.1 L927.1,716.2 L928.0,722.2 L928.8,728.0 L929.5,733.6 L930.2,739.2 L930.9,744.6 L931.5,749.8 L932.1,755.0 L932.7,760.0 L933.3,765.0 L933.8,769.8 L934.3,774.5 L934.8,779.1 L935.3,783.7 L935.7,788.1 L936.1,792.5 L936.6,796.8 L937.0,801.0"/>
<path d="M424.8,41.0 L463.7,92.2 L500.8,134.0 L569.6,199.9 L631.5,251.1 L686.8,292.9 L734.8,328.3 L775.2,358.9 L808.2,385.9 L834.5,410.1 L855.3,431.9 L871.8,451.9 L885.0,470.2 L895.7,487.2 L904.4,503.0 L911.5,517.8 L917.5,531.8 L922.5,544.9 L926.7,557.3 L930.3,569.0 L933.4,580.2 L936.1,590.9 L938.5,601.1 L940.5,610.8 L942.4,620.2 L944.0,629.2 L945.4,637.8 L946.7,646.2 L947.9,654.2 L948.9,662.0 L949.9,669.5 L950.7,676.8 L951.5,683.9 L952.2,690.7 L952.9,697.4 L953.5,703.8 L954.1,710.1 L954.6,716.2 L955.1,722.2 L955.6,728.0 L956.0,733.6 L956.4,739.2 L956.8,744.6 L957.2,749.8 L957.5,755.0 L957.8,760.0 L958.1,765.0 L958.4,769.8 L958.7,774.5 L959.0,779.1 L959.3,783.7 L959.5,788.1 L959.8,792.5 L960.0,796.8 L960.3,801.0"/>
<path d="M489.2,41.0 L532.4,92.2 L573.2,134.0 L647.8,199.9 L713.4,251.1 L769.5,292.9 L815.1,328.3 L850.6,358.9 L877.6,385.9 L898.0,410.1 L913.5,431.9 L925.4,451.9 L934.7,470.2 L942.1,487.2 L948.0,503.0 L952.8,517.8 L956.7,531.8 L960.0,544.9 L962.7,557.3 L964.9,569.0 L966.9,580.2 L968.5,590.9 L969.9,601.1 L971.1,610.8 L972.2,620.2 L973.1,629.2 L973.9,637.8 L974.6,646.2 L975.2,654.2 L975.7,662.0 L976.2,669.5 L976.7,676.8 L977.0,683.9 L977.4,690.7 L977.7,697.4 L978.0,703.8 L978.2,710.1 L978.5,716.2 L978.7,722.2 L978.9,728.0 L979.0,733.6 L979.2,739.2 L979.4,744.6 L979.5,749.8 L979.7,755.0 L979.8,760.0 L979.9,765.0 L980.0,769.8 L980.1,774.5 L980.3,779.1 L980.4,783.7 L980.5,788.1 L980.6,792.5 L980.7,796.8 L980.8,801.0"/>
<path d="M553.7,41.0 L601.1,92.2 L645.4,134.0 L725.3,199.9 L792.7,251.1 L846.1,292.9 L886.0,328.3 L914.7,358.9 L935.2,385.9 L950.1,410.1 L961.0,431.9 L969.2,451.9 L975.5,470.2 L980.3,487.2 L984.1,503.0 L987.1,517.8 L989.5,531.8 L991.4,544.9 L993.0,557.3 L994.2,569.0 L995.3,580.2 L996.1,590.9 L996.8,601.1 L997.3,610.8 L997.8,620.2 L998.1,629.2 L998.4,637.8 L998.7,646.2 L998.9,654.2 L999.0,662.0 L999.1,669.5 L999.2,676.8 L999.3,683.9 L999.3,690.7 L999.3,697.4 L999.4,703.8 L999.4,710.1 L999.4,716.2 L999.4,722.2 L999.3,728.0 L999.3,733.6 L999.3,739.2 L999.3,744.6 L999.2,749.8 L999.2,755.0 L999.2,760.0 L999.2,765.0 L999.1,769.8 L999.1,774.5 L999.1,779.1 L999.1,783.7 L999.0,788.1 L999.0,792.5 L999.0,796.8 L999.0,801.0"/>
<path d="M618.1,41.0 L669.7,92.2 L717.4,134.0 L801.0,199.9 L866.8,251.1 L914.1,292.9 L946.2,328.3 L967.8,358.9 L982.6,385.9 L992.9,410.1 L1000.2,431.9 L1005.5,451.9 L1009.5,470.2 L1012.4,487.2 L1014.5,503.0 L1016.2,517.8 L1017.4,531.8 L1018.3,544.9 L1018.9,557.3 L1019.4,569.0 L1019.7,580.2 L1019.9,590.9 L1020.0,601.1 L1020.1,610.8 L1020.0,620.2 L1020.0,629.2 L1019.9,637.8 L1019.8,646.2 L1019.6,654.2 L1019.4,662.0 L1019.3,669.5 L1019.1,676.8 L1018.9,683.9 L1018.7,690.7 L1018.5,697.4 L1018.3,703.8 L1018.1,710.1 L1017.9,716.2 L1017.7,722.2 L1017.5,728.0 L1017.3,733.6 L1017.2,739.2 L1017.0,744.6 L1016.8,749.8 L1016.7,755.0 L1016.5,760.0 L1016.3,765.0 L1016.2,769.8 L1016.1,774.5 L1015.9,779.1 L1015.8,783.7 L1015.7,788.1 L1015.6,792.5 L1015.5,796.8 L1015.4,801.0"/>
<path d="M682.4,41.0 L738.1,92.2 L788.8,134.0 L873.5,199.9 L933.5,251.1 L972.1,292.9 L996.3,328.3 L1011.7,358.9 L1021.7,385.9 L1028.4,410.1 L1033.0,431.9 L1036.1,451.9 L1038.2,470.2 L1039.6,487.2 L1040.6,503.0 L1041.1,517.8 L1041.4,531.8 L1041.5,544.9 L1041.5,557.3 L1041.3,569.0 L1041.1,580.2 L1040.8,590.9 L1040.4,601.1 L1040.1,610.8 L1039.7,620.2 L1039.2,629.2 L1038.8,637.8 L1038.4,646.2 L1038.0,654.2 L1037.6,662.0 L1037.2,669.5 L1036.7,676.8 L1036.3,683.9 L1036.0,690.7 L1035.6,697.4 L1035.2,703.8 L1034.8,710.1 L1034.5,716.2 L1034.1,722.2 L1033.8,728.0 L1033.5,733.6 L1033.2,739.2 L1032.9,744.6 L1032.6,749.8 L1032.3,755.0 L1032.1,760.0 L1031.8,765.0 L1031.6,769.8 L1031.3,774.5 L1031.1,779.1 L1030.9,783.7 L1030.7,788.1 L1030.5,792.5 L1030.3,796.8 L1030.1,801.0"/>
<path d="M746.7,41.0 L806.0,92.2 L858.6,134.0 L940.3,199.9 L991.2,251.1 L1020.6,292.9 L1037.8,328.3 L1048.2,358.9 L1054.5,385.9 L1058.4,410.1 L1060.8,431.9 L1062.2,451.9 L1062.9,470.2 L1063.2,487.2 L1063.1,503.0 L1062.9,517.8 L1062.4,531.8 L1061.9,544.9 L1061.3,557.3 L1060.6,569.0 L1059.9,580.2 L1059.2,590.9 L1058.5,601.1 L1057.8,610.8 L1057.1,620.2 L1056.4,629.2 L1055.7,637.8 L1055.1,646.2 L1054.4,654.2 L1053.8,662.0 L1053.2,669.5 L1052.6,676.8 L1052.0,683.9 L1051.5,690.7 L1050.9,697.4 L1050.4,703.8 L1049.9,710.1 L1049.4,716.2 L1049.0,722.2 L1048.5,728.0 L1048.1,733.6 L1047.7,739.2 L1047.3,744.6 L1046.9,749.8 L1046.5,755.0 L1046.2,760.0 L1045.8,765.0 L1045.5,769.8 L1045.2,774.5 L1044.9,779.1 L1044.6,783.7 L1044.3,788.1 L1044.1,792.5 L1043.8,796.8 L1043.6,801.0"/>
<path d="M810.8,41.0 L873.0,92.2 L925.7,134.0 L999.7,199.9 L1039.9,251.1 L1061.1,292.9 L1072.6,328.3 L1078.9,358.9 L1082.4,385.9 L1084.1,410.1 L1084.8,431.9 L1084.9,451.9 L1084.5,470.2 L1083.8,487.2 L1083.0,503.0 L1082.0,517.8 L1081.0,531.8 L1079.9,544.9 L1078.9,557.3 L1077.8,569.0 L1076.7,580.2 L1075.7,590.9 L1074.7,601.1 L1073.7,610.8 L1072.8,620.2 L1071.8,629.2 L1070.9,637.8 L1070.1,646.2 L1069.3,654.2 L1068.4,662.0 L1067.7,669.5 L1066.9,676.8 L1066.2,683.9 L1065.5,690.7 L1064.9,697.4 L1064.2,703.8 L1063.6,710.1 L1063.0,716.2 L1062.5,722.2 L1061.9,728.0 L1061.4,733.6 L1060.9,739.2 L1060.4,744.6 L1059.9,749.8 L1059.5,755.0 L1059.1,760.0 L1058.6,765.0 L1058.2,769.8 L1057.9,774.5 L1057.5,779.1 L1057.2,783.7 L1056.8,788.1 L1056.5,792.5 L1056.2,796.8 L1055.9,801.0"/>
<path d="M874.3,41.0 L937.9,92.2 L988.2,134.0 L1050.8,199.9 L1080.6,251.1 L1095.0,292.9 L1101.9,328.3 L1105.2,358.9 L1106.4,385.9 L1106.4,410.1 L1105.8,431.9 L1104.7,451.9 L1103.4,470.2 L1102.0,487.2 L1100.5,503.0 L1099.0,517.8 L1097.5,531.8 L1096.1,544.9 L1094.6,557.3 L1093.2,569.0 L1091.9,580.2 L1090.6,590.9 L1089.3,601.1 L1088.1,610.8 L1086.9,620.2 L1085.8,629.2 L1084.7,637.8 L1083.7,646.2 L1082.7,654.2 L1081.8,662.0 L1080.8,669.5 L1080.0,676.8 L1079.1,683.9 L1078.3,690.7 L1077.6,697.4 L1076.8,703.8 L1076.1,710.1 L1075.4,716.2 L1074.8,722.2 L1074.1,728.0 L1073.5,733.6 L1073.0,739.2 L1072.4,744.6 L1071.9,749.8 L1071.3,755.0 L1070.9,760.0 L1070.4,765.0 L1069.9,769.8 L1069.5,774.5 L1069.1,779.1 L1068.7,783.7 L1068.3,788.1 L1067.9,792.5 L1067.5,796.8 L1067.2,801.0"/>
<path d="M936.8,41.0 L999.4,92.2 L1044.5,134.0 L1094.1,199.9 L1114.9,251.1 L1123.7,292.9 L1127.2,328.3 L1127.9,358.9 L1127.3,385.9 L1126.0,410.1 L1124.3,431.9 L1122.3,451.9 L1120.3,470.2 L1118.3,487.2 L1116.3,503.0 L1114.3,517.8 L1112.4,531.8 L1110.6,544.9 L1108.9,557.3 L1107.2,569.0 L1105.6,580.2 L1104.0,590.9 L1102.6,601.1 L1101.2,610.8 L1099.8,620.2 L1098.5,629.2 L1097.3,637.8 L1096.1,646.2 L1095.0,654.2 L1093.9,662.0 L1092.9,669.5 L1091.9,676.8 L1091.0,683.9 L1090.1,690.7 L1089.2,697.4 L1088.4,703.8 L1087.6,710.1 L1086.8,716.2 L1086.1,722.2 L1085.4,728.0 L1084.7,733.6 L1084.1,739.2 L1083.4,744.6 L1082.8,749.8 L1082.3,755.0 L1081.7,760.0 L1081.2,765.0 L1080.7,769.8 L1080.2,774.5 L1079.7,779.1 L1079.3,783.7 L1078.8,788.1 L1078.4,792.5 L1078.0,796.8 L1077.6,801.0"/>
<path d="M997.2,41.0 L1055.7,92.2 L1093.6,134.0 L1130.5,199.9 L1144.0,251.1 L1148.5,292.9 L1149.1,328.3 L1147.9,358.9 L1145.8,385.9 L1143.4,410.1 L1140.8,431.9 L1138.1,451.9 L1135.5,470.2 L1133.0,487.2 L1130.5,503.0 L1128.2,517.8 L1126.0,531.8 L1123.8,544.9 L1121.8,557.3 L1119.9,569.0 L1118.1,580.2 L1116.3,590.9 L1114.7,601.1 L1113.1,610.8 L1111.6,620.2 L1110.2,629.2 L1108.8,637.8 L1107.5,646.2 L1106.3,654.2 L1105.1,662.0 L1104.0,669.5 L1102.9,676.8 L1101.9,683.9 L1100.9,690.7 L1099.9,697.4 L1099.0,703.8 L1098.2,710.1 L1097.3,716.2 L1096.5,722.2 L1095.8,728.0 L1095.0,733.6 L1094.3,739.2 L1093.7,744.6 L1093.0,749.8 L1092.4,755.0 L1091.8,760.0 L1091.2,765.0 L1090.7,769.8 L1090.1,774.5 L1089.6,779.1 L1089.1,783.7 L1088.6,788.1 L1088.2,792.5 L1087.8,796.8 L1087.3,801.0"/>
<path d="M1054.3,41.0 L1105.8,92.2 L1135.5,134.0 L1161.5,199.9 L1169.0,251.1 L1170.0,292.9 L1168.3,328.3 L1165.5,358.9 L1162.3,385.9 L1158.9,410.1 L1155.6,431.9 L1152.3,451.9 L1149.2,470.2 L1146.2,487.2 L1143.4,503.0 L1140.8,517.8 L1138.3,531.8 L1135.9,544.9 L1133.6,557.3 L1131.5,569.0 L1129.5,580.2 L1127.6,590.9 L1125.8,601.1 L1124.1,610.8 L1122.5,620.2 L1120.9,629.2 L1119.4,637.8 L1118.0,646.2 L1116.7,654.2 L1115.4,662.0 L1114.2,669.5 L1113.0,676.8 L1111.9,683.9 L1110.9,690.7 L1109.9,697.4 L1108.9,703.8 L1108.0,710.1 L1107.1,716.2 L1106.2,722.2 L1105.4,728.0 L1104.6,733.6 L1103.8,739.2 L1103.1,744.6 L1102.4,749.8 L1101.8,755.0 L1101.1,760.0 L1100.5,765.0 L1099.9,769.8 L1099.3,774.5 L1098.8,779.1 L1098.3,783.7 L1097.8,788.1 L1097.3,792.5 L1096.8,796.8 L1096.4,801.0"/>
</g></g>
<g clip-path="url(#c)" fill="none" stroke="#000" stroke-linejoin="round">
<path d="M650.9,71.3 L650.6,71.5 L650.2,71.8 L649.8,72.1 L649.3,72.5 L648.8,72.9 L648.1,73.4 L647.4,73.9 L646.7,74.5 L645.8,75.2 L644.8,75.9 L643.7,76.8 L642.4,77.7 L641.6,78.4" stroke-width="3.98"/>
<path d="M636.9,82.0 L635.3,83.2 L633.7,84.4 L632.1,85.6 L630.7,86.7 L629.2,87.8 L627.8,88.9 L627.6,89.0" stroke-width="3.99"/>
<path d="M622.9,92.5 L621.5,93.5 L620.1,94.5 L618.7,95.5 L617.3,96.5 L615.9,97.6 L614.5,98.6 L613.7,99.2" stroke-width="4.04"/>
<path d="M608.9,102.6 L607.5,103.6 L606.1,104.6 L604.8,105.6 L603.3,106.6 L601.9,107.7 L600.5,108.7 L599.7,109.3" stroke-width="4.04"/>
<path d="M594.9,112.9 L593.5,113.9 L592.1,115.0 L590.8,116.1 L589.3,117.1 L587.9,118.2 L586.5,119.2 L585.7,119.9" stroke-width="4.00"/>
<path d="M581.0,123.4 L579.5,124.5 L578.1,125.5 L576.8,126.6 L575.3,127.6 L573.9,128.7 L572.5,129.7 L571.7,130.4" stroke-width="4.00"/>
<path d="M566.9,133.9 L565.5,134.9 L564.1,136.0 L562.8,137.1 L561.3,138.1 L559.9,139.2 L558.5,140.2 L557.7,140.9" stroke-width="3.99"/>
<path d="M552.9,144.5 L551.5,145.6 L550.1,146.7 L548.8,147.7 L547.3,148.8 L545.9,149.9 L544.5,150.9 L543.7,151.6" stroke-width="3.98"/>
<path d="M538.9,155.1 L537.5,156.1 L536.1,157.1 L534.8,158.2 L533.3,159.2 L532.0,160.3 L530.5,161.3 L529.7,162.0" stroke-width="4.01"/>
<path d="M524.9,165.5 L523.5,166.6 L522.1,167.6 L520.8,168.7 L519.3,169.7 L517.9,170.8 L516.5,171.8 L515.7,172.4" stroke-width="4.01"/>
<path d="M510.9,175.9 L509.6,176.9 L508.2,178.0 L506.8,179.0 L505.4,180.1 L503.9,181.2 L502.5,182.3 L501.7,183.0" stroke-width="3.98"/>
<path d="M496.9,186.7 L495.6,187.9 L494.2,189.0 L492.8,190.2 L491.4,191.3 L489.9,192.5 L488.5,193.6 L487.7,194.4" stroke-width="3.87"/>
<path d="M483.0,198.2 L481.6,199.4 L480.2,200.6 L478.8,201.8 L477.4,203.0 L475.9,204.3 L474.5,205.6 L473.7,206.5" stroke-width="3.73"/>
<path d="M468.9,211.3 L467.5,212.7 L466.1,214.1 L464.7,215.6 L463.3,217.0 L462.0,218.3 L460.6,219.7 L459.7,220.5" stroke-width="3.55"/>
<path d="M455.1,224.9 L453.8,226.2 L452.5,227.6 L451.2,228.9 L449.9,230.3 L448.7,231.7 L447.5,233.1 L446.5,234.3" stroke-width="3.68"/>
<path d="M443.0,239.0 L441.9,240.5 L440.8,242.0 L439.7,243.5 L438.6,244.9 L437.4,246.4 L436.2,247.8 L435.9,248.2" stroke-width="3.96"/>
<path d="M431.9,252.9 L430.7,254.4 L429.5,255.8 L428.3,257.1 L427.1,258.5 L426.0,259.7 L424.9,260.9 L423.8,262.0 L423.5,262.3" stroke-width="3.72"/>
<path d="M418.9,266.8 L417.9,267.7 L417.1,268.6 L416.3,269.5 L415.5,270.3 L414.9,271.1 L414.3,271.9 L413.7,272.6 L413.2,273.3 L412.7,274.0 L412.2,274.7 L411.8,275.4 L411.4,276.1" stroke-width="3.90"/>
<path d="M409.2,280.8 L408.9,281.6 L408.6,282.5 L408.3,283.4 L408.0,284.4 L407.7,285.5 L407.3,286.6 L407.0,287.8 L406.6,289.0 L406.2,290.2" stroke-width="4.76"/>
<path d="M404.9,294.7 L404.6,296.2 L404.3,297.6 L404.1,299.0 L403.9,300.3 L403.8,301.7 L403.8,303.0 L403.8,304.2" stroke-width="4.96"/>
<path d="M404.0,308.8 L404.1,310.2 L404.1,311.6 L404.2,313.1 L404.2,314.7 L404.3,316.3 L404.3,317.9 L404.3,318.1" stroke-width="5.00"/>
<path d="M404.5,322.8 L404.6,324.5 L404.6,326.2 L404.7,327.9 L404.7,329.6 L404.7,331.3 L404.7,332.1" stroke-width="5.00"/>
<path d="M404.7,336.9 L404.7,338.6 L404.7,340.2 L404.7,341.9 L404.7,343.6 L404.7,345.2 L404.7,346.1" stroke-width="5.00"/>
<path d="M404.7,350.8 L404.7,352.6 L404.7,354.3 L404.7,356.1 L404.7,357.8 L404.7,359.4 L404.7,360.0" stroke-width="5.00"/>
<path d="M404.7,364.7 L404.7,365.9 L404.7,367.1 L404.7,368.1 L404.6,369.1 L404.7,370.0 L404.7,370.9 L404.8,371.8 L404.9,372.6 L405.0,373.4 L405.2,374.1" stroke-width="4.99"/>
<path d="M408.2,378.7 L408.4,379.2 L408.6,379.7 L408.8,380.0 L408.9,380.3 L409.0,380.6 L409.1,381.0 L409.2,381.4 L409.4,381.9 L409.6,382.5 L409.8,383.3 L410.2,384.3 L410.5,385.5 L410.9,386.9 L411.3,388.2" stroke-width="4.75"/>
<path d="M412.6,392.7 L413.2,394.4 L413.8,396.0 L414.4,397.5 L415.1,398.9 L415.8,400.2 L416.6,401.3 L417.2,402.1" stroke-width="4.49"/>
<path d="M421.4,406.8 L422.3,407.9 L423.2,409.2 L424.1,410.5 L425.0,412.0 L425.9,413.6 L426.8,415.2 L427.3,416.0" stroke-width="4.21"/>
<path d="M429.8,420.8 L430.7,422.5 L431.5,424.1 L432.2,425.7 L432.9,427.2 L433.6,428.7 L434.1,430.1" stroke-width="4.54"/>
<path d="M435.8,434.7 L436.2,436.1 L436.7,437.4 L437.1,438.6 L437.5,439.9 L437.8,441.0 L438.1,442.1 L438.3,443.1 L438.4,444.1" stroke-width="4.82"/>
<path d="M439.5,448.8 L439.9,449.8 L440.4,450.8 L441.0,451.8 L441.7,452.8 L442.4,453.8 L443.2,454.7 L444.0,455.8 L444.8,456.8 L445.6,457.8 L445.9,458.1" stroke-width="4.11"/>
<path d="M449.8,462.8 L450.6,463.9 L451.5,464.9 L452.4,465.9 L453.3,466.9 L454.2,467.9 L455.1,468.9 L456.0,469.8 L457.0,470.6 L458.0,471.5 L458.4,471.8" stroke-width="3.60"/>
<path d="M463.0,474.9 L464.0,475.6 L464.9,476.3 L465.8,477.0 L466.5,477.8 L467.2,478.5 L467.7,479.2 L468.3,479.9 L468.7,480.6 L469.1,481.4 L469.5,482.1 L469.8,482.9 L470.1,483.6" stroke-width="3.88"/>
<path d="M470.9,488.2 L471.0,489.2 L470.9,490.2 L470.9,491.3 L470.8,492.3 L470.7,493.3 L470.6,494.4 L470.4,495.4 L470.2,496.3 L470.0,497.2 L469.9,497.7" stroke-width="4.97"/>
<path d="M468.3,502.2 L467.9,503.4 L467.6,504.7 L467.2,506.1 L466.9,507.6 L466.6,509.3 L466.2,511.1 L466.1,511.6" stroke-width="4.87"/>
<path d="M465.2,516.3 L464.8,518.1 L464.4,519.9 L464.0,521.7 L463.5,523.3 L463.1,524.9 L462.8,525.7" stroke-width="4.85"/>
<path d="M461.2,530.3 L460.7,531.8 L460.2,533.3 L459.7,534.7 L459.2,536.2 L458.7,537.7 L458.2,539.2 L458.1,539.6" stroke-width="4.74"/>
<path d="M456.8,544.3 L456.3,545.9 L455.9,547.4 L455.5,548.9 L455.1,550.3 L454.7,551.6 L454.4,552.8 L454.2,553.6" stroke-width="4.82"/>
<path d="M452.8,558.2 L452.6,559.1 L452.5,560.3 L452.2,561.8 L452.0,563.4 L451.8,565.2 L451.6,567.1 L451.5,567.6" stroke-width="4.96"/>
<path d="M451.1,572.2 L450.9,574.1 L450.7,575.8 L450.6,577.3 L450.5,578.7 L450.4,580.0 L450.4,581.2 L450.4,581.5" stroke-width="4.99"/>
<path d="M450.3,586.2 L450.3,587.1 L450.3,587.8 L450.3,588.5 L450.3,589.0 L450.3,589.5 L450.3,589.8 L450.4,590.2 L450.4,590.4 L450.5,590.6 L450.6,590.9 L450.7,591.1 L450.9,591.4 L451.2,591.7 L451.4,592.0 L451.6,592.2 L451.8,592.4 L452.0,592.6 L452.4,592.8 L452.8,593.1 L453.3,593.4 L454.0,593.8 L454.8,594.4 L455.0,594.5" stroke-width="4.34"/>
<path d="M459.7,597.5 L461.2,598.5 L462.7,599.5 L464.4,600.5 L466.1,601.5 L467.9,602.6 L468.8,603.1" stroke-width="4.27"/>
<path d="M473.6,605.6 L475.9,606.7 L478.3,607.8 L480.8,609.0 L482.9,610.0" stroke-width="4.53"/>
<path d="M487.7,612.3 L489.9,613.4 L491.8,614.6 L493.6,615.7 L495.1,616.9 L496.4,618.1 L496.9,618.5" stroke-width="4.14"/>
<path d="M501.4,623.2 L502.5,624.3 L503.7,625.3 L505.0,626.2 L506.4,627.1 L507.7,627.8 L509.0,628.5 L510.3,629.0 L510.7,629.2" stroke-width="4.21"/>
<path d="M515.5,631.0 L517.2,631.5 L519.0,632.2 L521.0,632.8 L523.3,633.6 L524.5,633.9" stroke-width="4.75"/>
<path d="M529.4,635.4 L532.2,636.2 L534.9,636.9 L537.6,637.7 L538.6,638.0" stroke-width="4.81"/>
<path d="M543.4,639.5 L545.5,640.2 L547.3,640.8 L548.9,641.4 L550.3,642.0 L551.7,642.5 L552.7,643.0" stroke-width="4.68"/>
<path d="M557.4,645.1 L559.1,645.9 L561.0,646.7 L563.0,647.5 L565.1,648.5 L566.8,649.2" stroke-width="4.58"/>
<path d="M571.4,651.3 L573.7,652.3 L576.1,653.4 L578.5,654.5 L580.8,655.5" stroke-width="4.56"/>
<path d="M585.4,657.5 L587.7,658.5 L590.1,659.5 L592.5,660.6 L594.5,661.5" stroke-width="4.59"/>
<path d="M599.4,663.6 L601.5,664.6 L603.6,665.5 L605.5,666.5 L607.2,667.4 L608.7,668.3" stroke-width="4.46"/>
<path d="M613.3,671.3 L614.7,672.2 L616.1,673.1 L617.7,673.9 L619.5,674.8 L621.6,675.7 L622.6,676.1" stroke-width="4.46"/>
<path d="M627.4,677.8 L629.9,678.7 L632.5,679.6 L635.2,680.5 L636.5,680.9" stroke-width="4.74"/>
<path d="M641.5,682.5 L644.1,683.4 L646.6,684.3 L649.1,685.1 L650.6,685.7" stroke-width="4.73"/>
<path d="M655.3,687.2 L657.8,688.1 L660.3,688.9 L662.8,689.8 L664.7,690.5" stroke-width="4.73"/>
<path d="M669.4,692.3 L671.9,693.3 L674.4,694.3 L676.9,695.4 L678.8,696.3" stroke-width="4.60"/>
<path d="M683.4,698.4 L685.9,699.6 L688.4,700.7 L690.9,701.9 L692.5,702.6" stroke-width="4.53"/>
<path d="M697.5,704.9 L700.0,706.0 L702.5,707.1 L705.0,708.2 L706.6,708.9" stroke-width="4.57"/>
<path d="M711.6,711.1 L714.1,712.2 L716.6,713.4 L719.1,714.6 L720.6,715.3" stroke-width="4.54"/>
<path d="M725.6,717.7 L728.4,719.1 L731.2,720.4 L733.9,721.8 L734.6,722.1" stroke-width="4.48"/>
<path d="M739.4,724.6 L741.7,725.7 L743.7,726.8 L745.4,727.7 L746.8,728.5 L747.9,729.2 L748.7,729.8" stroke-width="4.37"/>
<path d="M753.3,733.0 L754.2,733.4 L755.0,733.7 L755.8,734.1 L756.7,734.4 L757.6,734.7 L758.5,735.1 L759.5,735.5 L760.6,736.0 L761.7,736.5 L762.8,737.1" stroke-width="4.58"/>
<path d="M767.4,739.9 L768.9,740.8 L770.5,741.8 L772.0,742.8 L773.6,743.8 L775.1,744.9 L776.5,745.9 L776.7,746.0" stroke-width="4.18"/>
<path d="M781.4,749.8 L782.7,750.9 L784.0,752.0 L785.3,753.2 L786.7,754.2 L788.0,755.3 L789.3,756.2 L790.7,757.1" stroke-width="3.91"/>
<path d="M795.3,759.8 L796.7,760.6 L798.1,761.3 L799.5,761.9 L800.9,762.6 L802.4,763.3 L803.8,763.9 L804.7,764.3" stroke-width="4.51"/>
<path d="M809.5,766.2 L811.2,766.8 L812.9,767.4 L814.6,768.0 L816.1,768.5 L817.5,769.1 L818.7,769.7 L818.8,769.7" stroke-width="4.67"/>
<path d="M822.4,773.7 L822.6,774.1 L822.8,774.5 L822.9,774.9 L823.0,775.0" stroke-width="4.61"/>
<path d="M964.0,58.0 L962.9,58.5 L961.5,59.2 L959.9,59.9 L958.1,60.8 L956.1,61.7 L954.1,62.7 L951.9,63.7" stroke-width="4.52"/>
<path d="M956.1,61.7 L954.1,62.7 L951.9,63.7 L949.8,64.8 L947.7,65.8 L945.6,66.7 L943.7,67.7 L942.0,68.5 L940.5,69.2" stroke-width="4.51"/>
<path d="M943.7,67.7 L942.0,68.5 L940.5,69.2 L939.3,69.9 L938.2,70.4 L937.2,70.9 L936.2,71.4 L935.2,72.0 L934.2,72.5" stroke-width="4.45"/>
<path d="M936.2,71.4 L935.2,72.0 L934.2,72.5 L932.9,73.2 L931.5,73.9 L929.7,74.8 L927.6,75.8 L925.0,77.0 L921.9,78.4" stroke-width="4.49"/>
<path d="M927.6,75.8 L925.0,77.0 L921.9,78.4 L918.4,80.1 L914.5,81.9 L910.3,83.8 L905.9,85.8 L901.3,87.9 L896.6,90.1" stroke-width="4.54"/>
<path d="M905.9,85.8 L901.3,87.9 L896.6,90.1 L892.0,92.2 L887.4,94.3 L883.0,96.3 L878.8,98.2 L875.0,100.0 L871.4,101.7" stroke-width="4.54"/>
<path d="M878.8,98.2 L875.0,100.0 L871.4,101.7 L868.0,103.2 L864.7,104.8 L861.6,106.3 L858.5,107.7 L855.5,109.1 L852.5,110.5" stroke-width="4.53"/>
<path d="M858.5,107.7 L855.5,109.1 L852.5,110.5 L849.5,111.9 L846.6,113.3 L843.6,114.7 L840.6,116.2 L837.5,117.6 L834.3,119.1" stroke-width="4.52"/>
<path d="M840.6,116.2 L837.5,117.6 L834.3,119.1 L831.1,120.6 L827.9,122.1 L824.6,123.7 L821.3,125.2 L818.1,126.7 L814.9,128.2" stroke-width="4.52"/>
<path d="M821.3,125.2 L818.1,126.7 L814.9,128.2 L811.7,129.7 L808.6,131.2 L805.6,132.6 L802.7,133.9 L800.0,135.2 L797.4,136.4" stroke-width="4.53"/>
<path d="M802.7,133.9 L800.0,135.2 L797.4,136.4 L794.9,137.6 L792.5,138.7 L790.2,139.7 L788.0,140.7 L785.9,141.7 L783.8,142.7" stroke-width="4.54"/>
<path d="M788.0,140.7 L785.9,141.7 L783.8,142.7 L781.7,143.6 L779.6,144.6 L777.5,145.5 L775.4,146.5 L773.3,147.5 L771.1,148.5" stroke-width="4.54"/>
<path d="M775.4,146.5 L773.3,147.5 L771.1,148.5 L769.0,149.5 L766.8,150.6 L764.7,151.6 L762.5,152.6 L760.4,153.6 L758.3,154.7" stroke-width="4.51"/>
<path d="M762.5,152.6 L760.4,153.6 L758.3,154.7 L756.2,155.7 L754.1,156.7 L752.1,157.7 L750.0,158.7 L748.0,159.7 L746.0,160.7" stroke-width="4.49"/>
<path d="M750.0,158.7 L748.0,159.7 L746.0,160.7 L744.0,161.7 L742.0,162.7 L740.1,163.7 L738.1,164.7 L736.2,165.7 L734.3,166.7" stroke-width="4.46"/>
<path d="M738.1,164.7 L736.2,165.7 L734.3,166.7 L732.4,167.6 L730.5,168.6 L728.6,169.6 L726.8,170.5 L725.0,171.5 L723.2,172.4" stroke-width="4.43"/>
<path d="M726.8,170.5 L725.0,171.5 L723.2,172.4 L721.5,173.4 L719.8,174.3 L718.1,175.2 L716.5,176.1 L714.8,177.0 L713.2,177.9" stroke-width="4.41"/>
<path d="M716.5,176.1 L714.8,177.0 L713.2,177.9 L711.6,178.8 L709.9,179.7 L708.3,180.6 L706.7,181.5 L705.0,182.5 L703.3,183.5" stroke-width="4.35"/>
<path d="M706.7,181.5 L705.0,182.5 L703.3,183.5 L701.7,184.5 L700.0,185.5 L698.4,186.5 L696.7,187.5 L695.1,188.5 L693.4,189.5" stroke-width="4.28"/>
<path d="M696.7,187.5 L695.1,188.5 L693.4,189.5 L691.8,190.6 L690.1,191.7 L688.4,192.8 L686.7,193.9 L685.0,195.0 L683.3,196.2" stroke-width="4.20"/>
<path d="M686.7,193.9 L685.0,195.0 L683.3,196.2 L681.5,197.3 L679.8,198.6 L678.0,199.8 L676.2,201.0 L674.5,202.3 L672.7,203.6" stroke-width="4.11"/>
<path d="M676.2,201.0 L674.5,202.3 L672.7,203.6 L670.9,204.8 L669.1,206.1 L667.3,207.4 L665.5,208.7 L663.8,210.0 L662.0,211.3" stroke-width="4.06"/>
<path d="M665.5,208.7 L663.8,210.0 L662.0,211.3 L660.2,212.6 L658.4,214.0 L656.6,215.3 L654.8,216.6 L653.0,218.0 L651.3,219.4" stroke-width="4.00"/>
<path d="M654.8,216.6 L653.0,218.0 L651.3,219.4 L649.5,220.7 L647.7,222.0 L646.0,223.4 L644.2,224.7 L642.5,226.0 L640.8,227.3" stroke-width="3.98"/>
<path d="M644.2,224.7 L642.5,226.0 L640.8,227.3 L639.0,228.6 L637.3,229.8 L635.6,231.1 L633.8,232.3 L632.1,233.6 L630.4,234.8" stroke-width="4.04"/>
<path d="M633.8,232.3 L632.1,233.6 L630.4,234.8 L628.8,236.0 L627.1,237.3 L625.5,238.5 L624.0,239.8 L622.5,241.0 L621.1,242.3" stroke-width="3.95"/>
<path d="M624.0,239.8 L622.5,241.0 L621.1,242.3 L619.7,243.5 L618.3,244.8 L617.0,246.0 L615.8,247.3 L614.5,248.6 L613.3,249.8" stroke-width="3.63"/>
<path d="M615.8,247.3 L614.5,248.6 L613.3,249.8 L612.1,251.1 L611.0,252.3 L609.8,253.6 L608.6,254.8 L607.5,256.0 L606.4,257.2" stroke-width="3.63"/>
<path d="M608.6,254.8 L607.5,256.0 L606.4,257.2 L605.2,258.4 L604.1,259.6 L603.0,260.7 L601.9,261.9 L600.9,263.1 L599.8,264.2" stroke-width="3.65"/>
<path d="M601.9,261.9 L600.9,263.1 L599.8,264.2 L598.8,265.4 L597.8,266.5 L596.9,267.7 L595.9,268.8 L595.0,270.0 L594.1,271.2" stroke-width="3.82"/>
<path d="M595.9,268.8 L595.0,270.0 L594.1,271.2 L593.3,272.4 L592.4,273.5 L591.6,274.7 L590.8,275.9 L590.1,277.1 L589.4,278.3" stroke-width="4.12"/>
<path d="M590.8,275.9 L590.1,277.1 L589.4,278.3 L588.6,279.5 L588.0,280.6 L587.3,281.8 L586.6,282.9 L586.0,284.0 L585.4,285.1" stroke-width="4.30"/>
<path d="M586.6,282.9 L586.0,284.0 L585.4,285.1 L584.8,286.1 L584.2,287.2 L583.7,288.2 L583.2,289.2 L582.7,290.2 L582.2,291.1" stroke-width="4.40"/>
<path d="M583.2,289.2 L582.7,290.2 L582.2,291.1 L581.7,292.1 L581.3,293.1 L580.8,294.1 L580.4,295.0 L580.0,296.0 L579.6,297.0" stroke-width="4.54"/>
<path d="M580.4,295.0 L580.0,296.0 L579.6,297.0 L579.2,297.9 L578.8,298.9 L578.5,299.8 L578.2,300.8 L577.8,301.7 L577.5,302.7" stroke-width="4.68"/>
<path d="M578.2,300.8 L577.8,301.7 L577.5,302.7 L577.2,303.6 L576.9,304.6 L576.6,305.5 L576.3,306.5 L576.0,307.5 L575.7,308.5" stroke-width="4.76"/>
<path d="M576.3,306.5 L576.0,307.5 L575.7,308.5 L575.4,309.5 L575.1,310.4 L574.8,311.4 L574.5,312.4 L574.2,313.4 L574.0,314.4" stroke-width="4.79"/>
<path d="M574.5,312.4 L574.2,313.4 L574.0,314.4 L573.7,315.5 L573.4,316.5 L573.1,317.6 L572.8,318.8 L572.5,320.0 L572.2,321.3" stroke-width="4.83"/>
<path d="M572.8,318.8 L572.5,320.0 L572.2,321.3 L571.9,322.6 L571.5,324.0 L571.2,325.4 L570.9,326.8 L570.5,328.3 L570.2,329.8" stroke-width="4.86"/>
<path d="M570.9,326.8 L570.5,328.3 L570.2,329.8 L569.9,331.2 L569.5,332.7 L569.2,334.2 L568.8,335.6 L568.5,337.0 L568.2,338.4" stroke-width="4.87"/>
<path d="M568.8,335.6 L568.5,337.0 L568.2,338.4 L567.8,339.7 L567.5,341.0 L567.2,342.4 L566.8,343.7 L566.5,345.0 L566.2,346.3" stroke-width="4.85"/>
<path d="M566.8,343.7 L566.5,345.0 L566.2,346.3 L565.8,347.6 L565.5,349.0 L565.2,350.3 L564.8,351.6 L564.5,353.0 L564.2,354.4" stroke-width="4.85"/>
<path d="M564.8,351.6 L564.5,353.0 L564.2,354.4 L563.8,355.8 L563.5,357.2 L563.1,358.6 L562.8,360.1 L562.4,361.5 L562.1,362.9" stroke-width="4.85"/>
<path d="M562.8,360.1 L562.4,361.5 L562.1,362.9 L561.7,364.4 L561.4,365.8 L561.1,367.2 L560.8,368.6 L560.5,370.0 L560.2,371.4" stroke-width="4.88"/>
<path d="M560.8,368.6 L560.5,370.0 L560.2,371.4 L560.0,372.7 L559.7,374.1 L559.5,375.5 L559.3,376.8 L559.0,378.2 L558.8,379.5" stroke-width="4.92"/>
<path d="M559.3,376.8 L559.0,378.2 L558.8,379.5 L558.6,380.9 L558.4,382.2 L558.3,383.5 L558.1,384.7 L558.0,386.0 L557.9,387.2" stroke-width="4.96"/>
<path d="M558.1,384.7 L558.0,386.0 L557.9,387.2 L557.8,388.5 L557.7,389.7 L557.6,390.9 L557.6,392.1 L557.5,393.2 L557.5,394.4" stroke-width="4.99"/>
<path d="M557.6,392.1 L557.5,393.2 L557.5,394.4 L557.5,395.5 L557.5,396.7 L557.5,397.8 L557.5,398.9 L557.5,400.0 L557.5,401.1" stroke-width="5.00"/>
<path d="M557.5,398.9 L557.5,400.0 L557.5,401.1 L557.5,402.2 L557.6,403.2 L557.6,404.3 L557.6,405.3 L557.7,406.3 L557.8,407.4" stroke-width="5.00"/>
<path d="M557.6,405.3 L557.7,406.3 L557.8,407.4 L557.8,408.4 L557.9,409.4 L558.0,410.4 L558.1,411.5 L558.2,412.5 L558.4,413.5" stroke-width="4.98"/>
<path d="M558.1,411.5 L558.2,412.5 L558.4,413.5 L558.5,414.6 L558.7,415.6 L558.8,416.7 L559.0,417.7 L559.1,418.8 L559.3,419.8" stroke-width="4.95"/>
<path d="M559.0,417.7 L559.1,418.8 L559.3,419.8 L559.5,420.8 L559.7,421.9 L560.0,422.9 L560.2,424.0 L560.5,425.0 L560.8,426.0" stroke-width="4.89"/>
<path d="M560.2,424.0 L560.5,425.0 L560.8,426.0 L561.1,427.1 L561.5,428.2 L561.8,429.3 L562.2,430.3 L562.6,431.4 L563.0,432.5" stroke-width="4.76"/>
<path d="M562.2,430.3 L562.6,431.4 L563.0,432.5 L563.4,433.5 L563.8,434.6 L564.2,435.6 L564.6,436.5 L565.0,437.5 L565.4,438.4" stroke-width="4.65"/>
<path d="M564.6,436.5 L565.0,437.5 L565.4,438.4 L565.8,439.3 L566.1,440.1 L566.5,440.9 L566.9,441.7 L567.2,442.5 L567.6,443.3" stroke-width="4.56"/>
<path d="M566.9,441.7 L567.2,442.5 L567.6,443.3 L568.0,444.1 L568.5,444.9 L568.9,445.7 L569.5,446.6 L570.0,447.5 L570.6,448.5" stroke-width="4.38"/>
<path d="M569.5,446.6 L570.0,447.5 L570.6,448.5 L571.2,449.4 L571.9,450.4 L572.5,451.5 L573.3,452.5 L574.0,453.6 L574.7,454.7" stroke-width="4.18"/>
<path d="M573.3,452.5 L574.0,453.6 L574.7,454.7 L575.5,455.7 L576.3,456.8 L577.1,457.9 L577.9,459.0 L578.8,460.0 L579.6,461.0" stroke-width="4.01"/>
<path d="M577.9,459.0 L578.8,460.0 L579.6,461.0 L580.4,462.1 L581.3,463.1 L582.2,464.1 L583.1,465.1 L584.0,466.2 L584.9,467.2" stroke-width="3.81"/>
<path d="M583.1,465.1 L584.0,466.2 L584.9,467.2 L585.9,468.2 L586.9,469.3 L587.9,470.3 L588.9,471.4 L590.0,472.5 L591.1,473.6" stroke-width="3.62"/>
<path d="M588.9,471.4 L590.0,472.5 L591.1,473.6 L592.3,474.7 L593.4,475.8 L594.6,476.9 L595.9,478.0 L597.1,479.1 L598.4,480.3" stroke-width="3.65"/>
<path d="M595.9,478.0 L597.1,479.1 L598.4,480.3 L599.7,481.4 L601.0,482.6 L602.3,483.8 L603.7,485.0 L605.0,486.2 L606.4,487.5" stroke-width="3.71"/>
<path d="M603.7,485.0 L605.0,486.2 L606.4,487.5 L607.8,488.8 L609.2,490.2 L610.6,491.6 L612.1,493.0 L613.6,494.4 L615.1,495.8" stroke-width="3.63"/>
<path d="M612.1,493.0 L613.6,494.4 L615.1,495.8 L616.6,497.2 L618.1,498.6 L619.6,499.9 L621.0,501.2 L622.5,502.5 L624.0,503.7" stroke-width="3.70"/>
<path d="M621.0,501.2 L622.5,502.5 L624.0,503.7 L625.4,504.9 L626.9,506.0 L628.3,507.1 L629.8,508.2 L631.2,509.2 L632.7,510.3" stroke-width="3.96"/>
<path d="M629.8,508.2 L631.2,509.2 L632.7,510.3 L634.1,511.4 L635.6,512.5 L637.1,513.6 L638.5,514.8 L640.0,516.0 L641.5,517.3" stroke-width="3.96"/>
<path d="M638.5,514.8 L640.0,516.0 L641.5,517.3 L642.9,518.6 L644.4,519.9 L645.9,521.3 L647.4,522.7 L648.8,524.1 L650.3,525.5" stroke-width="3.69"/>
<path d="M647.4,522.7 L648.8,524.1 L650.3,525.5 L651.8,526.9 L653.3,528.3 L654.9,529.7 L656.4,531.1 L658.0,532.5 L659.6,533.9" stroke-width="3.68"/>
<path d="M656.4,531.1 L658.0,532.5 L659.6,533.9 L661.2,535.3 L662.9,536.7 L664.6,538.1 L666.3,539.5 L668.0,540.9 L669.7,542.3" stroke-width="3.83"/>
<path d="M666.3,539.5 L668.0,540.9 L669.7,542.3 L671.4,543.7 L673.1,545.1 L674.8,546.4 L676.4,547.7 L678.0,549.0 L679.5,550.3" stroke-width="3.88"/>
<path d="M676.4,547.7 L678.0,549.0 L679.5,550.3 L681.1,551.5 L682.6,552.7 L684.0,553.8 L685.5,555.0 L686.9,556.1 L688.4,557.3" stroke-width="3.91"/>
<path d="M685.5,555.0 L686.9,556.1 L688.4,557.3 L689.8,558.4 L691.2,559.5 L692.6,560.7 L694.1,561.8 L695.5,563.0 L696.9,564.2" stroke-width="3.90"/>
<path d="M694.1,561.8 L695.5,563.0 L696.9,564.2 L698.4,565.4 L699.8,566.6 L701.3,567.8 L702.7,569.0 L704.2,570.3 L705.6,571.5" stroke-width="3.83"/>
<path d="M702.7,569.0 L704.2,570.3 L705.6,571.5 L707.0,572.7 L708.4,573.9 L709.8,575.1 L711.2,576.3 L712.5,577.5 L713.8,578.7" stroke-width="3.78"/>
<path d="M711.2,576.3 L712.5,577.5 L713.8,578.7 L715.1,579.8 L716.4,581.0 L717.7,582.2 L719.0,583.3 L720.3,584.5 L721.5,585.6" stroke-width="3.72"/>
<path d="M719.0,583.3 L720.3,584.5 L721.5,585.6 L722.8,586.8 L724.0,587.9 L725.2,589.0 L726.3,590.2 L727.5,591.2 L728.6,592.3" stroke-width="3.65"/>
<path d="M726.3,590.2 L727.5,591.2 L728.6,592.3 L729.7,593.4 L730.8,594.4 L731.9,595.5 L732.9,596.5 L733.9,597.5 L734.9,598.5" stroke-width="3.58"/>
<path d="M732.9,596.5 L733.9,597.5 L734.9,598.5 L735.9,599.5 L736.9,600.6 L737.9,601.6 L739.0,602.7 L740.0,603.8 L741.0,604.9" stroke-width="3.58"/>
<path d="M739.0,602.7 L740.0,603.8 L741.0,604.9 L742.1,606.0 L743.2,607.2 L744.3,608.3 L745.3,609.5 L746.4,610.7 L747.5,611.9" stroke-width="3.68"/>
<path d="M745.3,609.5 L746.4,610.7 L747.5,611.9 L748.5,613.1 L749.6,614.2 L750.6,615.3 L751.5,616.4 L752.5,617.5 L753.4,618.5" stroke-width="3.72"/>
<path d="M751.5,616.4 L752.5,617.5 L753.4,618.5 L754.3,619.5 L755.2,620.5 L756.1,621.5 L757.0,622.5 L757.8,623.4 L758.6,624.4" stroke-width="3.73"/>
<path d="M757.0,622.5 L757.8,623.4 L758.6,624.4 L759.4,625.3 L760.2,626.2 L761.0,627.0 L761.8,627.9 L762.5,628.8 L763.2,629.6" stroke-width="3.75"/>
<path d="M761.8,627.9 L762.5,628.8 L763.2,629.6 L763.9,630.3 L764.6,631.1 L765.3,631.8 L765.9,632.5 L766.6,633.2 L767.2,633.9" stroke-width="3.69"/>
<path d="M765.9,632.5 L766.6,633.2 L767.2,633.9 L767.8,634.6 L768.4,635.3 L768.9,636.0 L769.5,636.7 L770.0,637.5 L770.5,638.3" stroke-width="3.90"/>
<path d="M769.5,636.7 L770.0,637.5 L770.5,638.3 L771.0,639.1 L771.4,639.9 L771.8,640.6 L772.2,641.5 L772.6,642.3 L773.0,643.1" stroke-width="4.40"/>
<path d="M772.2,641.5 L772.6,642.3 L773.0,643.1 L773.3,643.9 L773.7,644.8 L774.1,645.7 L774.5,646.6 L775.0,647.5 L775.5,648.5" stroke-width="4.54"/>
<path d="M774.5,646.6 L775.0,647.5 L775.5,648.5 L776.0,649.5 L776.5,650.5 L777.0,651.6 L777.5,652.7 L778.0,653.8 L778.6,654.8" stroke-width="4.49"/>
<path d="M777.5,652.7 L778.0,653.8 L778.6,654.8 L779.1,655.9 L779.7,657.0 L780.2,658.0 L780.7,659.0 L781.2,660.0 L781.8,660.9" stroke-width="4.45"/>
<path d="M780.7,659.0 L781.2,660.0 L781.8,660.9 L782.2,661.8 L782.7,662.7 L783.2,663.5 L783.7,664.3 L784.1,665.2 L784.6,666.0" stroke-width="4.36"/>
<path d="M783.7,664.3 L784.1,665.2 L784.6,666.0 L785.1,666.8 L785.7,667.6 L786.2,668.4 L786.8,669.2 L787.5,670.0 L788.2,670.8" stroke-width="4.11"/>
<path d="M786.8,669.2 L787.5,670.0 L788.2,670.8 L788.9,671.7 L789.7,672.5 L790.5,673.3 L791.4,674.1 L792.2,674.9 L793.1,675.8" stroke-width="3.61"/>
<path d="M791.4,674.1 L792.2,674.9 L793.1,675.8 L794.0,676.6 L794.9,677.4 L795.8,678.3 L796.6,679.1 L797.5,680.0 L798.4,680.9" stroke-width="3.60"/>
<path d="M796.6,679.1 L797.5,680.0 L798.4,680.9 L799.2,681.8 L800.1,682.7 L800.9,683.6 L801.8,684.5 L802.7,685.4 L803.6,686.4" stroke-width="3.62"/>
<path d="M801.8,684.5 L802.7,685.4 L803.6,686.4 L804.4,687.3 L805.3,688.2 L806.2,689.2 L807.1,690.1 L808.0,691.0 L808.9,691.9" stroke-width="3.62"/>
<path d="M807.1,690.1 L808.0,691.0 L808.9,691.9 L809.8,692.8 L810.7,693.8 L811.6,694.7 L812.6,695.6 L813.5,696.5 L814.4,697.4" stroke-width="3.54"/>
<path d="M812.6,695.6 L813.5,696.5 L814.4,697.4 L815.4,698.4 L816.3,699.3 L817.2,700.2 L818.1,701.1 L819.0,702.0 L819.9,702.9" stroke-width="3.54"/>
<path d="M818.1,701.1 L819.0,702.0 L819.9,702.9 L820.8,703.8 L821.7,704.7 L822.6,705.6 L823.5,706.5 L824.4,707.4 L825.3,708.3" stroke-width="3.56"/>
<path d="M823.5,706.5 L824.4,707.4 L825.3,708.3 L826.2,709.2 L827.1,710.0 L827.9,710.9 L828.7,711.8 L829.5,712.7 L830.3,713.6" stroke-width="3.62"/>
<path d="M828.7,711.8 L829.5,712.7 L830.3,713.6 L831.0,714.5 L831.8,715.4 L832.5,716.3 L833.2,717.3 L833.9,718.2 L834.5,719.1" stroke-width="3.91"/>
<path d="M833.2,717.3 L833.9,718.2 L834.5,719.1 L835.2,720.0 L835.8,720.8 L836.4,721.7 L837.0,722.5 L837.5,723.3 L838.0,724.1" stroke-width="4.08"/>
<path d="M837.0,722.5 L837.5,723.3 L838.0,724.1 L838.5,724.8 L839.0,725.4 L839.4,726.1 L839.8,726.7 L840.2,727.4 L840.5,728.0" stroke-width="4.18"/>
<path d="M839.8,726.7 L840.2,727.4 L840.5,728.0 L840.9,728.6 L841.3,729.3 L841.6,729.9 L841.9,730.6 L842.3,731.3 L842.7,732.0" stroke-width="4.39"/>
<path d="M841.9,730.6 L842.3,731.3 L842.7,732.0 L843.0,732.8 L843.3,733.6 L843.7,734.4 L844.0,735.2 L844.3,736.0 L844.6,736.8" stroke-width="4.59"/>
<path d="M844.0,735.2 L844.3,736.0 L844.6,736.8 L844.9,737.6 L845.2,738.4 L845.5,739.2 L845.8,740.0 L846.0,740.7 L846.2,741.4" stroke-width="4.71"/>
<path d="M845.8,740.0 L846.0,740.7 L846.2,741.4 L846.4,742.1 L846.6,742.8 L846.8,743.5 L846.9,744.1 L847.1,744.8 L847.2,745.4" stroke-width="4.83"/>
<path d="M846.9,744.1 L847.1,744.8 L847.2,745.4 L847.4,746.1 L847.5,746.7 L847.6,747.4 L847.7,748.0 L847.8,748.7 L847.9,749.4" stroke-width="4.92"/>
<path d="M847.7,748.0 L847.8,748.7 L847.9,749.4 L848.0,750.0 L848.0,750.7 L848.1,751.4 L848.1,752.1 L848.1,752.7 L848.2,753.4" stroke-width="4.98"/>
<path d="M848.1,752.1 L848.1,752.7 L848.2,753.4 L848.2,754.1 L848.2,754.7 L848.3,755.4 L848.3,756.1 L848.4,756.7 L848.5,757.3" stroke-width="4.99"/>
<path d="M848.3,756.1 L848.4,756.7 L848.5,757.3 L848.6,758.0 L848.7,758.6 L848.7,759.2 L848.8,759.9 L848.9,760.5 L849.0,761.1" stroke-width="4.95"/>
<path d="M848.8,759.9 L848.9,760.5 L849.0,761.1 L849.2,761.7 L849.3,762.3 L849.5,762.9 L849.6,763.4 L849.8,764.0 L850.0,764.5" stroke-width="4.86"/>
<path d="M849.6,763.4 L849.8,764.0 L850.0,764.5 L850.2,765.1 L850.5,765.6 L850.8,766.1 L851.0,766.6 L851.3,767.1 L851.6,767.6" stroke-width="4.50"/>
<path d="M851.0,766.6 L851.3,767.1 L851.6,767.6 L851.9,768.1 L852.2,768.6 L852.5,769.1 L852.7,769.5 L853.0,770.0 L853.3,770.5" stroke-width="4.32"/>
<path d="M852.7,769.5 L853.0,770.0 L853.3,770.5 L853.5,771.0 L853.8,771.5 L854.0,772.0 L854.3,772.5 L854.5,773.0 L854.8,773.5" stroke-width="4.45"/>
<path d="M854.3,772.5 L854.5,773.0 L854.8,773.5 L855.0,774.0 L855.2,774.4 L855.4,774.7 L855.6,775.0 L855.7,775.3" stroke-width="4.46"/>
</g>
<g stroke="#000" stroke-width="1" fill="none" shape-rendering="crispEdges">
<rect x="156.5" y="68.5" width="930.0" height="733.0"/>
<line x1="207.5" x2="207.5" y1="801.5" y2="792.0"/>
<line x1="207.5" x2="207.5" y1="68.5" y2="78.0"/>
<line x1="311.5" x2="311.5" y1="801.5" y2="792.0"/>
<line x1="311.5" x2="311.5" y1="68.5" y2="78.0"/>
<line x1="414.5" x2="414.5" y1="801.5" y2="792.0"/>
<line x1="414.5" x2="414.5" y1="68.5" y2="78.0"/>
<line x1="517.5" x2="517.5" y1="801.5" y2="792.0"/>
<line x1="517.5" x2="517.5" y1="68.5" y2="78.0"/>
<line x1="621.5" x2="621.5" y1="801.5" y2="792.0"/>
<line x1="621.5" x2="621.5" y1="68.5" y2="78.0"/>
<line x1="724.5" x2="724.5" y1="801.5" y2="792.0"/>
<line x1="724.5" x2="724.5" y1="68.5" y2="78.0"/>
<line x1="827.5" x2="827.5" y1="801.5" y2="792.0"/>
<line x1="827.5" x2="827.5" y1="68.5" y2="78.0"/>
<line x1="931.5" x2="931.5" y1="801.5" y2="792.0"/>
<line x1="931.5" x2="931.5" y1="68.5" y2="78.0"/>
<line x1="1034.5" x2="1034.5" y1="801.5" y2="792.0"/>
<line x1="1034.5" x2="1034.5" y1="68.5" y2="78.0"/>
<line x1="156.5" x2="167.5" y1="92.5" y2="92.5"/>
<line x1="1086.5" x2="1076.0" y1="92.5" y2="92.5"/>
<line x1="156.5" x2="167.5" y1="133.5" y2="133.5"/>
<line x1="1086.5" x2="1076.0" y1="133.5" y2="133.5"/>
<line x1="156.5" x2="167.5" y1="169.5" y2="169.5"/>
<line x1="1086.5" x2="1076.0" y1="169.5" y2="169.5"/>
<line x1="156.5" x2="167.5" y1="199.5" y2="199.5"/>
<line x1="1086.5" x2="1076.0" y1="199.5" y2="199.5"/>
<line x1="156.5" x2="167.5" y1="226.5" y2="226.5"/>
<line x1="1086.5" x2="1076.0" y1="226.5" y2="226.5"/>
<line x1="156.5" x2="167.5" y1="251.5" y2="251.5"/>
<line x1="1086.5" x2="1076.0" y1="251.5" y2="251.5"/>
<line x1="156.5" x2="167.5" y1="410.5" y2="410.5"/>
<line x1="1086.5" x2="1076.0" y1="410.5" y2="410.5"/>
<line x1="156.5" x2="167.5" y1="503.5" y2="503.5"/>
<line x1="1086.5" x2="1076.0" y1="503.5" y2="503.5"/>
<line x1="156.5" x2="167.5" y1="569.5" y2="569.5"/>
<line x1="1086.5" x2="1076.0" y1="569.5" y2="569.5"/>
<line x1="156.5" x2="167.5" y1="620.5" y2="620.5"/>
<line x1="1086.5" x2="1076.0" y1="620.5" y2="620.5"/>
<line x1="156.5" x2="167.5" y1="662.5" y2="662.5"/>
<line x1="1086.5" x2="1076.0" y1="662.5" y2="662.5"/>
<line x1="156.5" x2="166.0" y1="697.5" y2="697.5"/>
<line x1="1086.5" x2="1076.0" y1="697.5" y2="697.5"/>
<line x1="156.5" x2="166.0" y1="727.5" y2="727.5"/>
<line x1="1086.5" x2="1076.0" y1="727.5" y2="727.5"/>
<line x1="156.5" x2="166.0" y1="754.5" y2="754.5"/>
<line x1="1086.5" x2="1076.0" y1="754.5" y2="754.5"/>
<line x1="156.5" x2="166.0" y1="779.5" y2="779.5"/>
<line x1="1086.5" x2="1076.0" y1="779.5" y2="779.5"/>
</g>
<g filter="url(#gf)">
<g transform="translate(0,51.7) scale(1,1.065)" font-size="24.85" stroke="#000" stroke-width="0.45">
<text y="0"><tspan x="222.71" textLength="159.89" lengthAdjust="spacingAndGlyphs">Scanning-HIS</tspan> <tspan x="389.97" textLength="76.74" lengthAdjust="spacingAndGlyphs">RT-DR</tspan> <tspan x="472.89" textLength="65.47" lengthAdjust="spacingAndGlyphs">Mean</tspan> <tspan x="546.67" textLength="101.91" lengthAdjust="spacingAndGlyphs">Retrieval</tspan> <tspan x="656.25" textLength="8.63" lengthAdjust="spacingAndGlyphs">:</tspan> <tspan x="669.02" textLength="140.53" lengthAdjust="spacingAndGlyphs">26-Sep-2012</tspan> <tspan x="813.57" textLength="89.69" lengthAdjust="spacingAndGlyphs">22:29:31</tspan> <tspan x="912.29" textLength="7.98" lengthAdjust="spacingAndGlyphs">-</tspan> <tspan x="925.29" textLength="93.00" lengthAdjust="spacingAndGlyphs">22:30:25</tspan></text>
</g>
<text class="b" x="191.0" y="830.0" textLength="25.8" lengthAdjust="spacingAndGlyphs">-40</text>
<text class="b" x="294.3" y="830.0" textLength="25.8" lengthAdjust="spacingAndGlyphs">-30</text>
<text class="b" x="397.6" y="830.0" textLength="25.8" lengthAdjust="spacingAndGlyphs">-20</text>
<text class="b" x="501.0" y="830.0" textLength="25.8" lengthAdjust="spacingAndGlyphs">-10</text>
<text class="b" x="615.4" y="830.0" textLength="9.9" lengthAdjust="spacingAndGlyphs">0</text>
<text class="b" x="713.8" y="830.0" textLength="19.8" lengthAdjust="spacingAndGlyphs">10</text>
<text class="b" x="817.1" y="830.0" textLength="19.8" lengthAdjust="spacingAndGlyphs">20</text>
<text class="b" x="920.5" y="830.0" textLength="19.8" lengthAdjust="spacingAndGlyphs">30</text>
<text class="b" x="1023.8" y="830.0" textLength="19.8" lengthAdjust="spacingAndGlyphs">40</text>
<text class="b" x="130.0" y="100.3" textLength="19.8" lengthAdjust="spacingAndGlyphs">50</text>
<text class="b" x="130.0" y="141.3" textLength="19.8" lengthAdjust="spacingAndGlyphs">60</text>
<text class="b" x="130.0" y="177.3" textLength="19.8" lengthAdjust="spacingAndGlyphs">70</text>
<text class="b" x="130.0" y="207.3" textLength="19.8" lengthAdjust="spacingAndGlyphs">80</text>
<text class="b" x="130.0" y="234.3" textLength="19.8" lengthAdjust="spacingAndGlyphs">90</text>
<text class="b" x="120.0" y="259.3" textLength="29.8" lengthAdjust="spacingAndGlyphs">100</text>
<text class="b" x="120.0" y="418.3" textLength="29.8" lengthAdjust="spacingAndGlyphs">200</text>
<text class="b" x="120.0" y="511.3" textLength="29.8" lengthAdjust="spacingAndGlyphs">300</text>
<text class="b" x="120.0" y="577.3" textLength="29.8" lengthAdjust="spacingAndGlyphs">400</text>
<text class="b" x="120.0" y="628.3" textLength="29.8" lengthAdjust="spacingAndGlyphs">500</text>
<text class="b" x="120.0" y="670.3" textLength="29.8" lengthAdjust="spacingAndGlyphs">600</text>
<text class="b" x="120.0" y="705.3" textLength="29.8" lengthAdjust="spacingAndGlyphs">700</text>
<text class="b" x="120.0" y="735.3" textLength="29.8" lengthAdjust="spacingAndGlyphs">800</text>
<text class="b" x="120.0" y="762.3" textLength="29.8" lengthAdjust="spacingAndGlyphs">900</text>
<text class="b" x="110.1" y="787.3" textLength="39.7" lengthAdjust="spacingAndGlyphs">1000</text>
<text class="l" x="619.9" y="855.6" text-anchor="middle">Temperature (C)</text>
<text class="l" transform="translate(96.3,436) rotate(-90)" text-anchor="middle">Pressure (mb)</text>
<text class="b" x="1105.6" y="444.2" textLength="29.8" lengthAdjust="spacingAndGlyphs">223</text>
<text class="b" x="1105.6" y="751.6" textLength="29.8" lengthAdjust="spacingAndGlyphs">852</text>
<text class="b" x="1105.6" y="765.2" textLength="29.8" lengthAdjust="spacingAndGlyphs">904</text>
<text class="b" x="1105.6" y="771.9" textLength="29.8" lengthAdjust="spacingAndGlyphs">931</text>
</g>
</svg></body></html>
